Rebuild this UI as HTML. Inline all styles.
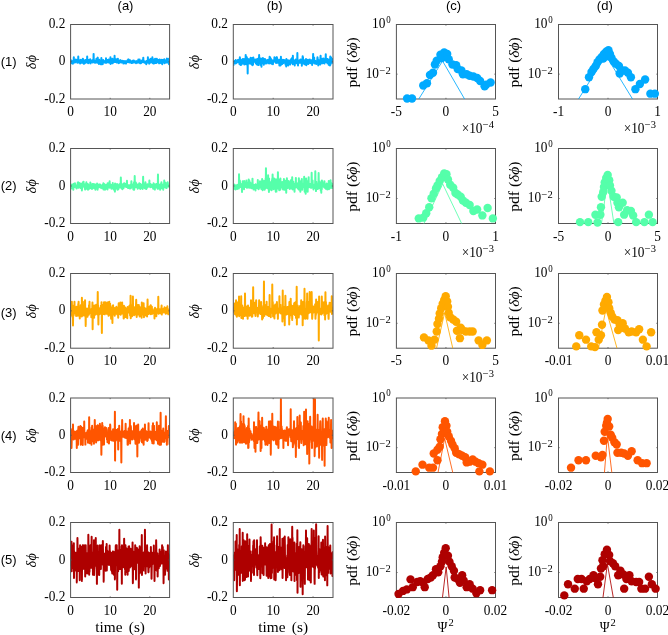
<!DOCTYPE html>
<html><head><meta charset="utf-8"><style>
html,body{margin:0;padding:0;background:#fff;}
svg{display:block;will-change:transform;}
</style></head><body>
<svg width="668" height="635" viewBox="0 0 668 635">
<rect width="668" height="635" fill="#fff"/>
<clipPath id="cp00"><rect x="70.6" y="24.5" width="99.0" height="74.5"/></clipPath>
<polyline clip-path="url(#cp00)" points="70.68,61.33 70.85,63.28 71.01,61.91 71.18,62.64 71.34,63.20 71.51,60.44 71.67,61.18 71.84,61.47 72.00,61.87 72.17,61.31 72.33,61.82 72.50,61.95 72.66,62.56 72.83,63.69 72.99,61.07 73.16,62.35 73.32,61.22 73.49,61.23 73.65,62.82 73.82,57.19 73.98,61.89 74.15,60.83 74.31,61.08 74.48,61.31 74.64,62.48 74.81,61.20 74.97,62.56 75.14,61.46 75.30,61.13 75.47,61.32 75.63,61.64 75.80,59.54 75.96,61.40 76.13,59.65 76.29,60.31 76.46,61.30 76.62,61.80 76.79,60.94 76.95,60.07 77.12,61.53 77.28,62.66 77.45,60.18 77.61,61.97 77.78,61.26 77.94,62.07 78.11,61.68 78.27,56.44 78.44,62.39 78.60,59.73 78.77,61.87 78.93,60.71 79.10,61.77 79.26,60.88 79.43,60.25 79.59,62.49 79.76,61.91 79.92,62.25 80.09,63.43 80.25,60.95 80.42,62.14 80.58,62.36 80.75,62.61 80.91,59.79 81.08,62.73 81.24,62.46 81.41,61.07 81.57,61.55 81.74,62.05 81.90,60.76 82.07,60.93 82.23,62.69 82.40,62.25 82.56,62.05 82.73,61.37 82.89,58.63 83.06,61.36 83.22,60.75 83.39,61.22 83.55,62.34 83.72,63.73 83.88,62.13 84.05,60.63 84.21,62.87 84.38,63.63 84.54,61.90 84.71,61.04 84.87,60.36 85.04,61.64 85.20,60.79 85.37,60.09 85.53,61.90 85.70,62.66 85.86,61.25 86.03,61.69 86.19,61.03 86.36,61.90 86.52,61.88 86.69,61.10 86.85,59.53 87.02,62.14 87.18,56.44 87.35,61.23 87.51,62.58 87.68,61.53 87.84,62.06 88.01,61.25 88.17,63.28 88.34,62.14 88.50,62.21 88.67,59.90 88.83,61.38 89.00,60.98 89.16,62.00 89.33,62.59 89.49,62.08 89.66,61.76 89.82,62.08 89.99,62.03 90.15,59.32 90.32,62.15 90.48,63.37 90.65,60.69 90.81,60.75 90.98,61.08 91.14,61.70 91.31,61.83 91.47,61.19 91.64,61.20 91.80,61.40 91.97,61.95 92.13,60.32 92.30,62.45 92.46,62.33 92.63,61.77 92.79,60.94 92.96,61.39 93.12,61.79 93.29,61.79 93.45,60.82 93.62,53.89 93.78,62.35 93.95,60.12 94.11,62.30 94.28,61.07 94.44,61.76 94.61,62.03 94.77,61.77 94.94,61.66 95.10,62.82 95.27,62.62 95.43,61.86 95.60,60.46 95.76,62.48 95.93,62.37 96.09,60.53 96.26,62.44 96.42,58.63 96.59,62.51 96.75,62.12 96.92,62.59 97.08,59.45 97.25,61.01 97.41,61.42 97.58,58.63 97.74,57.63 97.91,62.37 98.07,62.88 98.24,62.40 98.40,60.14 98.57,60.19 98.73,61.76 98.90,63.93 99.06,61.59 99.23,59.86 99.39,60.88 99.56,62.46 99.72,62.12 99.89,60.56 100.05,61.71 100.22,62.47 100.38,62.17 100.55,61.67 100.71,64.15 100.88,60.80 101.04,61.76 101.21,62.25 101.37,57.93 101.54,64.15 101.70,61.18 101.87,63.89 102.03,61.31 102.20,64.15 102.36,62.65 102.53,60.64 102.69,64.05 102.86,62.35 103.02,62.99 103.19,59.99 103.35,61.74 103.52,62.49 103.68,62.45 103.85,61.86 104.01,62.44 104.18,61.45 104.34,61.43 104.51,61.51 104.67,62.28 104.84,61.70 105.00,62.38 105.17,60.80 105.33,62.67 105.50,61.20 105.66,61.50 105.83,61.54 105.99,58.23 106.16,60.49 106.32,61.80 106.49,62.84 106.65,60.76 106.82,62.55 106.98,61.37 107.15,60.75 107.31,61.70 107.48,61.80 107.64,60.00 107.81,60.90 107.97,61.94 108.14,61.03 108.30,62.18 108.47,61.05 108.63,62.47 108.80,59.39 108.96,61.22 109.13,61.10 109.29,62.02 109.46,61.89 109.62,62.58 109.79,62.41 109.95,63.02 110.12,61.34 110.28,62.77 110.45,57.19 110.61,63.89 110.78,61.78 110.94,63.51 111.11,61.29 111.27,60.05 111.44,61.23 111.60,61.81 111.77,60.40 111.93,62.09 112.10,62.91 112.26,60.89 112.43,58.63 112.59,61.93 112.76,63.28 112.92,61.07 113.09,62.49 113.25,61.76 113.42,60.06 113.58,61.83 113.75,61.54 113.91,61.65 114.08,60.30 114.24,60.33 114.41,61.25 114.57,55.69 114.74,60.99 114.90,62.11 115.07,60.97 115.23,61.91 115.40,59.99 115.56,61.36 115.73,61.13 115.89,61.28 116.06,59.34 116.22,62.09 116.39,60.04 116.55,61.52 116.72,61.30 116.88,62.52 117.05,61.33 117.21,62.25 117.38,62.35 117.54,58.95 117.71,62.30 117.87,58.68 118.04,61.47 118.20,61.36 118.37,62.33 118.53,62.69 118.70,63.10 118.86,62.16 119.03,61.20 119.19,61.80 119.36,62.84 119.52,61.59 119.69,60.74 119.85,61.81 120.02,60.15 120.18,61.41 120.35,61.06 120.51,60.35 120.68,61.00 120.84,61.78 121.01,61.37 121.17,62.42 121.34,60.97 121.50,62.50 121.67,61.91 121.83,61.97 122.00,61.44 122.16,60.78 122.33,61.10 122.49,61.45 122.66,61.95 122.82,62.32 122.99,61.57 123.15,61.93 123.32,63.51 123.48,62.42 123.65,62.99 123.81,60.90 123.98,62.48 124.14,61.42 124.31,61.67 124.47,61.24 124.64,62.83 124.80,61.67 124.97,63.29 125.13,62.81 125.30,61.17 125.46,61.63 125.63,61.82 125.79,61.36 125.96,62.38 126.12,63.51 126.29,62.07 126.45,61.69 126.62,61.32 126.78,61.93 126.95,61.05 127.11,61.99 127.28,60.61 127.44,62.05 127.61,61.34 127.77,62.09 127.94,61.74 128.10,59.46 128.27,61.94 128.43,61.10 128.60,59.53 128.76,62.15 128.93,60.75 129.09,61.18 129.26,61.63 129.42,60.24 129.59,62.39 129.75,62.45 129.92,61.72 130.08,60.29 130.25,61.90 130.41,62.22 130.58,62.24 130.74,62.08 130.91,61.66 131.07,62.17 131.24,62.83 131.40,62.99 131.57,62.69 131.73,61.26 131.90,62.16 132.06,62.08 132.23,62.62 132.39,62.82 132.56,60.79 132.72,62.28 132.89,62.06 133.05,61.67 133.22,60.69 133.38,61.80 133.55,61.20 133.71,60.53 133.88,62.41 134.04,60.90 134.21,62.56 134.37,62.59 134.54,62.32 134.70,62.25 134.87,61.72 135.03,61.55 135.20,61.78 135.36,61.60 135.53,61.81 135.69,61.43 135.86,61.48 136.02,63.24 136.19,61.60 136.35,61.26 136.52,62.34 136.68,61.57 136.85,61.10 137.01,61.58 137.18,61.43 137.34,62.48 137.51,62.68 137.67,60.99 137.84,62.42 138.00,60.96 138.17,61.79 138.33,59.46 138.50,62.46 138.66,61.89 138.83,61.82 138.99,62.06 139.16,61.85 139.32,61.67 139.49,61.59 139.65,59.46 139.82,63.03 139.98,61.50 140.15,62.03 140.31,63.33 140.48,61.13 140.64,61.46 140.81,63.23 140.97,61.35 141.14,61.14 141.30,61.83 141.47,61.50 141.63,62.70 141.80,60.75 141.96,61.25 142.13,62.20 142.29,61.02 142.46,59.95 142.62,61.17 142.79,61.40 142.95,61.38 143.12,60.45 143.28,57.63 143.45,61.14 143.61,62.22 143.78,61.54 143.94,61.59 144.11,62.11 144.27,61.27 144.44,61.56 144.60,62.68 144.77,62.53 144.93,61.48 145.10,61.44 145.26,61.62 145.43,62.43 145.59,61.79 145.76,62.11 145.92,61.72 146.09,62.34 146.25,64.15 146.42,62.42 146.58,61.03 146.75,61.31 146.91,62.03 147.08,62.49 147.24,62.73 147.41,61.61 147.57,61.19 147.74,61.83 147.90,57.19 148.07,62.55 148.23,62.37 148.40,60.96 148.56,61.75 148.73,60.75 148.89,60.11 149.06,62.27 149.22,63.68 149.39,62.55 149.55,59.63 149.72,60.78 149.88,63.03 150.05,61.07 150.21,62.26 150.38,60.70 150.54,61.81 150.71,58.63 150.87,60.83 151.04,60.20 151.20,61.96 151.37,62.17 151.53,61.63 151.70,60.62 151.86,61.57 152.03,61.62 152.19,61.26 152.36,57.19 152.52,62.92 152.69,60.96 152.85,61.25 153.02,61.04 153.18,61.77 153.35,63.51 153.51,61.35 153.68,61.65 153.84,59.58 154.01,63.49 154.17,61.94 154.34,63.14 154.50,61.26 154.67,61.87 154.83,61.67 155.00,62.94 155.16,58.63 155.33,62.98 155.49,60.71 155.66,59.95 155.82,61.79 155.99,62.62 156.15,59.39 156.32,62.99 156.48,60.48 156.65,60.87 156.81,58.68 156.98,61.49 157.14,60.50 157.31,59.82 157.47,61.62 157.64,61.53 157.80,62.26 157.97,62.05 158.13,60.81 158.30,59.90 158.46,61.51 158.63,62.64 158.79,61.28 158.96,60.69 159.12,63.37 159.29,61.07 159.45,62.13 159.62,59.40 159.78,61.82 159.95,61.20 160.11,62.05 160.28,61.43 160.44,62.72 160.61,62.93 160.77,60.47 160.94,62.15 161.10,60.99 161.27,62.24 161.43,62.27 161.60,62.74 161.76,59.75 161.93,61.00 162.09,61.57 162.26,64.15 162.42,60.87 162.59,60.78 162.75,59.92 162.92,61.64 163.08,61.69 163.25,62.07 163.41,61.18 163.58,61.58 163.74,60.95 163.91,62.23 164.07,60.82 164.24,59.24 164.40,62.57 164.57,63.26 164.73,62.36 164.90,61.46 165.06,61.00 165.23,60.57 165.39,60.53 165.56,61.17 165.72,60.68 165.89,62.51 166.05,62.07 166.22,62.33 166.38,62.09 166.55,62.52 166.71,59.43 166.88,58.63 167.04,62.10 167.21,61.52 167.37,61.95 167.54,62.46 167.70,60.24 167.87,59.32 168.03,58.68 168.20,59.76 168.36,62.19 168.53,61.97 168.69,61.80 168.86,62.65 169.02,64.15 169.19,63.01 169.35,60.84 169.52,61.57" fill="none" stroke="#00AAFF" stroke-width="2.0" stroke-linejoin="round"/>
<rect x="70.60" y="24.50" width="99.00" height="74.50" fill="none" stroke="#555" stroke-width="1"/>
<line x1="110.20" y1="99.00" x2="110.20" y2="97.80" stroke="#555" stroke-width="0.8"/>
<line x1="110.20" y1="24.50" x2="110.20" y2="25.70" stroke="#555" stroke-width="0.8"/>
<line x1="149.80" y1="99.00" x2="149.80" y2="97.80" stroke="#555" stroke-width="0.8"/>
<line x1="149.80" y1="24.50" x2="149.80" y2="25.70" stroke="#555" stroke-width="0.8"/>
<line x1="70.60" y1="61.75" x2="71.80" y2="61.75" stroke="#555" stroke-width="0.8"/>
<line x1="169.60" y1="61.75" x2="168.40" y2="61.75" stroke="#555" stroke-width="0.8"/>
<text transform="translate(70.60,116.00) scale(0.86,1)" font-size="15.5" text-anchor="middle" font-family='"Liberation Serif", serif' >0</text>
<text transform="translate(110.20,116.00) scale(0.86,1)" font-size="15.5" text-anchor="middle" font-family='"Liberation Serif", serif' >10</text>
<text transform="translate(149.80,116.00) scale(0.86,1)" font-size="15.5" text-anchor="middle" font-family='"Liberation Serif", serif' >20</text>
<text transform="translate(65.30,28.10) scale(0.86,1)" font-size="15.5" text-anchor="end" font-family='"Liberation Serif", serif' >0.2</text>
<text transform="translate(65.30,65.35) scale(0.86,1)" font-size="15.5" text-anchor="end" font-family='"Liberation Serif", serif' >0</text>
<text transform="translate(65.30,102.60) scale(0.86,1)" font-size="15.5" text-anchor="end" font-family='"Liberation Serif", serif' >-0.2</text>
<g transform="translate(36.10,61.75) rotate(-90)" font-size="14" font-family='"Liberation Serif", serif' font-style="italic"><text x="-7.6" y="0">δ</text><text x="-0.6" y="0">ϕ</text></g>
<clipPath id="cp01"><rect x="233.3" y="24.5" width="99.69999999999999" height="74.5"/></clipPath>
<polyline clip-path="url(#cp01)" points="233.38,62.99 233.55,64.97 233.72,61.90 233.88,62.54 234.05,61.48 234.21,62.58 234.38,63.08 234.55,60.97 234.71,61.46 234.88,61.15 235.04,61.38 235.21,60.81 235.38,60.69 235.54,63.55 235.71,60.10 235.88,62.43 236.04,63.26 236.21,62.54 236.37,62.33 236.54,61.36 236.71,61.55 236.87,61.49 237.04,60.98 237.20,62.37 237.37,61.32 237.54,61.55 237.70,62.03 237.87,59.94 238.04,62.20 238.20,61.75 238.37,61.24 238.53,61.08 238.70,60.73 238.87,59.74 239.03,62.10 239.20,62.49 239.37,62.09 239.53,64.14 239.70,60.81 239.86,57.33 240.03,59.46 240.20,60.50 240.36,62.81 240.53,63.02 240.69,65.02 240.86,59.52 241.03,62.56 241.19,64.32 241.36,64.71 241.53,61.71 241.69,61.13 241.86,62.26 242.02,63.52 242.19,61.81 242.36,61.48 242.52,63.46 242.69,62.85 242.85,58.93 243.02,63.47 243.19,61.63 243.35,62.25 243.52,60.23 243.69,62.82 243.85,59.34 244.02,60.60 244.18,59.33 244.35,64.52 244.52,62.46 244.68,60.94 244.85,62.45 245.01,60.38 245.18,62.57 245.35,61.05 245.51,62.60 245.68,54.94 245.85,57.33 246.01,64.26 246.18,61.85 246.34,62.88 246.51,59.71 246.68,61.52 246.84,57.33 247.01,62.52 247.17,63.96 247.34,60.59 247.51,60.01 247.67,73.60 247.84,58.74 248.01,59.77 248.17,63.51 248.34,62.06 248.50,62.24 248.67,62.00 248.84,59.86 249.00,60.53 249.17,61.88 249.34,63.16 249.50,61.58 249.67,59.53 249.83,62.54 250.00,63.58 250.17,59.29 250.33,58.54 250.50,62.84 250.66,57.74 250.83,61.91 251.00,63.19 251.16,60.83 251.33,59.52 251.50,64.09 251.66,63.06 251.83,60.91 251.99,62.56 252.16,58.09 252.33,65.21 252.49,61.91 252.66,62.68 252.82,61.97 252.99,64.77 253.16,62.38 253.32,57.48 253.49,61.25 253.66,60.71 253.82,60.65 253.99,59.17 254.15,59.87 254.32,59.99 254.49,61.38 254.65,60.84 254.82,61.84 254.98,60.18 255.15,60.95 255.32,61.58 255.48,59.38 255.65,60.13 255.82,63.23 255.98,62.45 256.15,63.05 256.31,61.63 256.48,62.94 256.65,64.27 256.81,62.00 256.98,61.76 257.14,59.03 257.31,62.04 257.48,64.81 257.64,63.18 257.81,62.73 257.98,58.65 258.14,61.96 258.31,60.25 258.47,61.88 258.64,65.10 258.81,62.03 258.97,60.80 259.14,54.94 259.31,62.00 259.47,62.52 259.64,61.90 259.80,62.05 259.97,63.45 260.14,61.14 260.30,62.71 260.47,61.38 260.63,58.61 260.80,62.30 260.97,65.26 261.13,59.18 261.30,62.82 261.47,66.71 261.63,60.49 261.80,58.64 261.96,63.48 262.13,62.63 262.30,61.20 262.46,62.03 262.63,61.76 262.79,58.41 262.96,58.07 263.13,58.67 263.29,60.80 263.46,58.77 263.63,59.66 263.79,64.80 263.96,61.61 264.12,60.50 264.29,61.45 264.46,61.31 264.62,63.13 264.79,59.55 264.95,59.06 265.12,60.13 265.29,61.95 265.45,61.74 265.62,61.83 265.79,62.35 265.95,63.53 266.12,63.09 266.28,62.70 266.45,62.27 266.62,60.32 266.78,60.98 266.95,61.21 267.11,62.46 267.28,60.61 267.45,61.58 267.61,60.90 267.78,60.01 267.95,59.87 268.11,59.76 268.28,63.37 268.44,61.25 268.61,62.17 268.78,61.50 268.94,60.30 269.11,62.52 269.28,63.43 269.44,61.78 269.61,56.74 269.77,57.52 269.94,57.33 270.11,62.95 270.27,57.67 270.44,61.37 270.60,61.11 270.77,60.97 270.94,61.43 271.10,58.94 271.27,61.00 271.44,63.74 271.60,60.98 271.77,59.97 271.93,60.30 272.10,61.53 272.27,60.50 272.43,60.98 272.60,61.98 272.76,61.16 272.93,64.20 273.10,61.50 273.26,61.43 273.43,62.06 273.60,61.09 273.76,60.28 273.93,61.55 274.09,60.35 274.26,61.58 274.43,57.37 274.59,60.53 274.76,60.19 274.92,60.35 275.09,60.85 275.26,61.06 275.42,61.48 275.59,58.53 275.76,62.80 275.92,62.50 276.09,62.89 276.25,62.90 276.42,62.33 276.59,57.33 276.75,62.20 276.92,57.33 277.08,59.92 277.25,59.67 277.42,59.91 277.58,59.28 277.75,62.86 277.92,61.77 278.08,62.45 278.25,62.69 278.41,60.03 278.58,61.87 278.75,60.54 278.91,61.57 279.08,62.59 279.25,63.13 279.41,65.43 279.58,59.82 279.74,61.58 279.91,63.77 280.08,61.82 280.24,60.61 280.41,65.43 280.57,63.42 280.74,65.21 280.91,56.74 281.07,64.39 281.24,60.10 281.41,61.85 281.57,60.64 281.74,61.95 281.90,63.22 282.07,63.52 282.24,63.95 282.40,61.94 282.57,61.40 282.73,61.81 282.90,59.83 283.07,61.87 283.23,62.41 283.40,63.15 283.57,60.83 283.73,60.01 283.90,61.71 284.06,60.83 284.23,60.57 284.40,62.30 284.56,61.56 284.73,60.16 284.89,62.14 285.06,62.94 285.23,61.69 285.39,62.41 285.56,64.67 285.73,62.28 285.89,61.09 286.06,60.62 286.22,66.41 286.39,59.05 286.56,61.49 286.72,59.91 286.89,60.60 287.05,62.24 287.22,60.52 287.39,61.78 287.55,62.97 287.72,61.11 287.89,60.15 288.05,61.68 288.22,65.43 288.38,64.04 288.55,62.28 288.72,62.26 288.88,61.64 289.05,60.79 289.22,61.46 289.38,61.76 289.55,60.98 289.71,62.79 289.88,60.49 290.05,64.53 290.21,62.91 290.38,60.93 290.54,61.79 290.71,61.81 290.88,60.79 291.04,60.84 291.21,59.10 291.38,62.69 291.54,62.31 291.71,62.51 291.87,61.17 292.04,57.98 292.21,62.01 292.37,60.34 292.54,63.08 292.70,64.19 292.87,55.69 293.04,61.72 293.20,62.27 293.37,62.57 293.54,62.50 293.70,62.24 293.87,61.72 294.03,61.79 294.20,60.51 294.37,61.17 294.53,62.83 294.70,65.43 294.86,60.72 295.03,61.52 295.20,62.00 295.36,63.38 295.53,62.73 295.70,59.39 295.86,61.16 296.03,60.96 296.19,61.40 296.36,60.85 296.53,63.11 296.69,62.58 296.86,61.29 297.02,61.06 297.19,63.41 297.36,52.99 297.52,61.76 297.69,59.70 297.86,63.96 298.02,65.43 298.19,60.53 298.35,61.26 298.52,62.55 298.69,63.03 298.85,61.13 299.02,62.10 299.19,60.69 299.35,61.63 299.52,62.17 299.68,61.82 299.85,61.81 300.02,62.73 300.18,59.67 300.35,61.91 300.51,59.50 300.68,62.18 300.85,60.64 301.01,61.69 301.18,60.62 301.35,61.02 301.51,61.27 301.68,59.44 301.84,65.66 302.01,60.78 302.18,63.14 302.34,59.16 302.51,59.03 302.67,56.14 302.84,61.94 303.01,57.33 303.17,61.95 303.34,61.33 303.51,62.83 303.67,63.48 303.84,60.43 304.00,61.35 304.17,61.66 304.34,60.14 304.50,64.19 304.67,63.48 304.83,60.91 305.00,61.49 305.17,61.08 305.33,64.42 305.50,62.60 305.67,63.13 305.83,62.90 306.00,59.07 306.16,62.89 306.33,65.15 306.50,60.08 306.66,60.80 306.83,61.34 306.99,60.58 307.16,62.58 307.33,60.78 307.49,61.75 307.66,61.85 307.83,61.98 307.99,59.78 308.16,63.00 308.32,64.05 308.49,62.21 308.66,63.39 308.82,61.93 308.99,60.28 309.16,62.04 309.32,61.65 309.49,61.60 309.65,62.53 309.82,59.48 309.99,61.36 310.15,61.03 310.32,61.84 310.48,63.08 310.65,62.50 310.82,63.21 310.98,60.62 311.15,62.95 311.32,60.84 311.48,60.28 311.65,63.51 311.81,60.56 311.98,61.13 312.15,65.04 312.31,63.04 312.48,61.61 312.64,61.01 312.81,61.08 312.98,60.28 313.14,53.89 313.31,62.87 313.48,62.26 313.64,62.30 313.81,60.97 313.97,62.00 314.14,57.56 314.31,61.26 314.47,61.66 314.64,62.69 314.80,63.56 314.97,61.81 315.14,61.96 315.30,61.95 315.47,61.05 315.64,61.98 315.80,61.57 315.97,62.29 316.13,62.19 316.30,63.98 316.47,61.99 316.63,61.38 316.80,61.69 316.96,62.81 317.13,63.38 317.30,59.33 317.46,57.33 317.63,57.98 317.80,61.21 317.96,61.07 318.13,61.09 318.29,65.43 318.46,64.45 318.63,60.19 318.79,62.29 318.96,60.23 319.13,61.24 319.29,61.09 319.46,61.80 319.62,63.58 319.79,61.85 319.96,63.81 320.12,64.19 320.29,64.56 320.45,57.33 320.62,55.69 320.79,63.56 320.95,62.77 321.12,61.11 321.29,61.66 321.45,61.36 321.62,61.37 321.78,63.34 321.95,61.27 322.12,61.19 322.28,62.02 322.45,58.63 322.61,63.31 322.78,63.16 322.95,60.88 323.11,61.48 323.28,59.48 323.45,60.19 323.61,58.49 323.78,61.40 323.94,61.95 324.11,60.01 324.28,61.24 324.44,63.54 324.61,62.05 324.77,61.91 324.94,61.37 325.11,62.36 325.27,62.26 325.44,61.24 325.61,59.83 325.77,54.19 325.94,61.23 326.10,62.01 326.27,62.08 326.44,59.91 326.60,59.53 326.77,62.21 326.93,61.10 327.10,59.97 327.27,58.99 327.43,63.34 327.60,61.85 327.77,62.02 327.93,62.38 328.10,61.11 328.26,59.41 328.43,62.98 328.60,61.51 328.76,64.86 328.93,59.86 329.10,61.67 329.26,61.55 329.43,59.88 329.59,62.30 329.76,62.65 329.93,65.43 330.09,60.06 330.26,56.44 330.42,64.52 330.59,63.03 330.76,61.08 330.92,57.33 331.09,59.68 331.26,62.04 331.42,60.63 331.59,62.38 331.75,60.36 331.92,61.81 332.09,58.86 332.25,62.78 332.42,60.27 332.58,59.41 332.75,59.66 332.92,63.03" fill="none" stroke="#00AAFF" stroke-width="2.0" stroke-linejoin="round"/>
<rect x="233.30" y="24.50" width="99.70" height="74.50" fill="none" stroke="#555" stroke-width="1"/>
<line x1="273.18" y1="99.00" x2="273.18" y2="97.80" stroke="#555" stroke-width="0.8"/>
<line x1="273.18" y1="24.50" x2="273.18" y2="25.70" stroke="#555" stroke-width="0.8"/>
<line x1="313.06" y1="99.00" x2="313.06" y2="97.80" stroke="#555" stroke-width="0.8"/>
<line x1="313.06" y1="24.50" x2="313.06" y2="25.70" stroke="#555" stroke-width="0.8"/>
<line x1="233.30" y1="61.75" x2="234.50" y2="61.75" stroke="#555" stroke-width="0.8"/>
<line x1="333.00" y1="61.75" x2="331.80" y2="61.75" stroke="#555" stroke-width="0.8"/>
<text transform="translate(233.30,116.00) scale(0.86,1)" font-size="15.5" text-anchor="middle" font-family='"Liberation Serif", serif' >0</text>
<text transform="translate(273.18,116.00) scale(0.86,1)" font-size="15.5" text-anchor="middle" font-family='"Liberation Serif", serif' >10</text>
<text transform="translate(313.06,116.00) scale(0.86,1)" font-size="15.5" text-anchor="middle" font-family='"Liberation Serif", serif' >20</text>
<text transform="translate(228.00,28.10) scale(0.86,1)" font-size="15.5" text-anchor="end" font-family='"Liberation Serif", serif' >0.2</text>
<text transform="translate(228.00,65.35) scale(0.86,1)" font-size="15.5" text-anchor="end" font-family='"Liberation Serif", serif' >0</text>
<text transform="translate(228.00,102.60) scale(0.86,1)" font-size="15.5" text-anchor="end" font-family='"Liberation Serif", serif' >-0.2</text>
<g transform="translate(198.80,61.75) rotate(-90)" font-size="14" font-family='"Liberation Serif", serif' font-style="italic"><text x="-7.6" y="0">δ</text><text x="-0.6" y="0">ϕ</text></g>
<clipPath id="cp10"><rect x="70.6" y="148.5" width="99.0" height="75.0"/></clipPath>
<polyline clip-path="url(#cp10)" points="70.68,184.24 70.85,184.88 71.01,186.36 71.18,186.30 71.34,186.56 71.51,187.60 71.67,188.48 71.84,188.39 72.00,184.40 72.17,184.66 72.33,187.69 72.50,187.59 72.66,188.16 72.83,184.93 72.99,184.63 73.16,187.84 73.32,189.68 73.49,185.64 73.65,184.65 73.82,183.89 73.98,185.42 74.15,185.95 74.31,186.27 74.48,186.73 74.64,186.85 74.81,186.48 74.97,183.34 75.14,186.49 75.30,185.33 75.47,185.63 75.63,185.43 75.80,185.77 75.96,185.45 76.13,186.73 76.29,187.94 76.46,186.90 76.62,188.50 76.79,186.45 76.95,185.89 77.12,185.89 77.28,185.50 77.45,186.81 77.61,183.63 77.78,182.53 77.94,185.20 78.11,182.32 78.27,185.48 78.44,186.31 78.60,187.82 78.77,186.86 78.93,186.72 79.10,186.98 79.26,183.02 79.43,184.01 79.59,186.35 79.76,185.86 79.92,185.30 80.09,187.21 80.25,186.15 80.42,187.72 80.58,187.96 80.75,185.98 80.91,183.60 81.08,186.50 81.24,186.59 81.41,185.37 81.57,187.30 81.74,186.03 81.90,190.41 82.07,186.49 82.23,185.27 82.40,186.36 82.56,186.23 82.73,185.87 82.89,182.32 83.06,184.34 83.22,185.21 83.39,186.59 83.55,181.63 83.72,184.80 83.88,185.55 84.05,185.78 84.21,186.85 84.38,185.20 84.54,186.32 84.71,187.86 84.87,184.61 85.04,189.58 85.20,187.12 85.37,185.86 85.53,185.28 85.70,186.91 85.86,187.64 86.03,185.91 86.19,183.33 86.36,182.32 86.52,187.51 86.69,188.85 86.85,186.08 87.02,186.05 87.18,187.18 87.35,186.65 87.51,188.36 87.68,185.83 87.84,183.93 88.01,189.66 88.17,186.41 88.34,187.83 88.50,187.10 88.67,189.12 88.83,185.44 89.00,185.26 89.16,186.09 89.33,187.89 89.49,187.93 89.66,185.68 89.82,186.43 89.99,185.81 90.15,188.25 90.32,182.41 90.48,184.93 90.65,185.68 90.81,183.90 90.98,185.02 91.14,185.99 91.31,185.90 91.47,185.95 91.64,187.91 91.80,187.44 91.97,189.00 92.13,184.50 92.30,186.35 92.46,184.67 92.63,184.05 92.79,184.30 92.96,186.21 93.12,186.29 93.29,185.76 93.45,186.80 93.62,184.42 93.78,184.03 93.95,188.13 94.11,185.23 94.28,185.87 94.44,187.70 94.61,186.44 94.77,185.43 94.94,186.38 95.10,187.04 95.27,184.46 95.43,189.68 95.60,186.91 95.76,187.09 95.93,185.31 96.09,185.98 96.26,185.66 96.42,184.46 96.59,185.07 96.75,186.39 96.92,184.98 97.08,183.54 97.25,184.13 97.41,184.08 97.58,189.68 97.74,186.27 97.91,184.86 98.07,185.65 98.24,186.14 98.40,186.43 98.57,187.55 98.73,184.76 98.90,186.32 99.06,186.24 99.23,187.03 99.39,186.73 99.56,185.84 99.72,184.44 99.89,186.22 100.05,184.49 100.22,185.03 100.38,184.91 100.55,185.70 100.71,187.78 100.88,185.57 101.04,185.30 101.21,186.46 101.37,186.30 101.54,185.83 101.70,186.29 101.87,186.17 102.03,188.17 102.20,185.21 102.36,186.26 102.53,186.18 102.69,186.82 102.86,186.96 103.02,186.46 103.19,187.25 103.35,183.22 103.52,189.45 103.68,186.49 103.85,188.11 104.01,186.89 104.18,186.42 104.34,187.14 104.51,184.27 104.67,186.71 104.84,184.78 105.00,189.68 105.17,184.99 105.33,186.40 105.50,185.55 105.66,189.04 105.83,186.08 105.99,187.01 106.16,185.05 106.32,188.35 106.49,185.54 106.65,186.19 106.82,185.44 106.98,184.59 107.15,187.59 107.31,186.73 107.48,189.54 107.64,183.31 107.81,186.73 107.97,184.15 108.14,186.90 108.30,185.36 108.47,185.53 108.63,186.71 108.80,186.71 108.96,182.98 109.13,187.42 109.29,187.64 109.46,185.62 109.62,181.19 109.79,186.51 109.95,186.45 110.12,185.98 110.28,184.35 110.45,185.92 110.61,185.61 110.78,187.45 110.94,186.47 111.11,185.49 111.27,185.75 111.44,188.74 111.60,185.02 111.77,186.39 111.93,187.27 112.10,186.10 112.26,188.57 112.43,186.98 112.59,186.37 112.76,183.10 112.92,185.60 113.09,186.56 113.25,188.35 113.42,184.93 113.58,187.19 113.75,187.56 113.91,189.55 114.08,185.77 114.24,186.56 114.41,185.06 114.57,186.04 114.74,185.26 114.90,191.61 115.07,183.38 115.23,184.82 115.40,184.40 115.56,185.87 115.73,185.11 115.89,186.47 116.06,188.41 116.22,186.32 116.39,186.14 116.55,185.59 116.72,184.91 116.88,185.87 117.05,184.02 117.21,185.10 117.38,184.78 117.54,189.68 117.71,184.99 117.87,186.31 118.04,186.20 118.20,186.07 118.37,189.14 118.53,186.59 118.70,186.67 118.86,186.04 119.03,186.60 119.19,186.26 119.36,184.34 119.52,186.72 119.69,186.78 119.85,185.67 120.02,187.59 120.18,185.22 120.35,186.32 120.51,185.51 120.68,184.01 120.84,177.44 121.01,184.81 121.17,185.36 121.34,186.44 121.50,185.24 121.67,188.31 121.83,184.44 122.00,187.57 122.16,185.12 122.33,189.22 122.49,187.08 122.66,185.99 122.82,186.20 122.99,185.33 123.15,183.99 123.32,186.37 123.48,188.20 123.65,186.57 123.81,184.84 123.98,185.95 124.14,183.18 124.31,186.50 124.47,184.82 124.64,184.75 124.80,184.58 124.97,186.38 125.13,183.66 125.30,185.51 125.46,186.51 125.63,184.39 125.79,185.85 125.96,186.52 126.12,186.86 126.29,185.38 126.45,184.77 126.62,187.04 126.78,186.50 126.95,180.74 127.11,185.70 127.28,186.80 127.44,187.08 127.61,185.54 127.77,185.11 127.94,185.52 128.10,188.12 128.27,185.14 128.43,185.29 128.60,185.63 128.76,185.93 128.93,188.09 129.09,186.79 129.26,187.02 129.42,187.88 129.59,187.07 129.75,185.91 129.92,186.37 130.08,188.57 130.25,185.06 130.41,184.68 130.58,185.34 130.74,187.58 130.91,188.25 131.07,184.24 131.24,185.35 131.40,181.19 131.57,185.89 131.73,185.73 131.90,184.88 132.06,185.95 132.23,186.69 132.39,186.72 132.56,186.88 132.72,184.66 132.89,184.53 133.05,185.58 133.22,188.88 133.38,189.56 133.55,185.58 133.71,189.68 133.88,189.27 134.04,182.32 134.21,189.68 134.37,186.22 134.54,187.15 134.70,175.95 134.87,185.01 135.03,185.57 135.20,186.86 135.36,182.32 135.53,186.12 135.69,186.93 135.86,182.45 136.02,187.29 136.19,185.79 136.35,185.82 136.52,184.10 136.68,185.66 136.85,186.85 137.01,184.71 137.18,185.18 137.34,187.45 137.51,186.54 137.67,188.68 137.84,185.63 138.00,185.00 138.17,184.53 138.33,184.52 138.50,186.05 138.66,186.11 138.83,187.42 138.99,185.11 139.16,185.08 139.32,183.15 139.49,187.88 139.65,183.74 139.82,184.41 139.98,185.62 140.15,185.31 140.31,189.05 140.48,184.06 140.64,185.53 140.81,185.64 140.97,184.78 141.14,188.14 141.30,187.33 141.47,188.03 141.63,186.34 141.80,186.77 141.96,187.21 142.13,187.71 142.29,184.39 142.46,184.78 142.62,189.04 142.79,186.05 142.95,187.26 143.12,176.69 143.28,186.83 143.45,185.63 143.61,183.90 143.78,186.13 143.94,186.31 144.11,187.44 144.27,187.25 144.44,184.63 144.60,185.69 144.77,188.25 144.93,186.38 145.10,187.23 145.26,186.53 145.43,182.32 145.59,183.30 145.76,184.60 145.92,184.79 146.09,187.07 146.25,189.12 146.42,186.19 146.58,185.84 146.75,186.15 146.91,186.35 147.08,187.77 147.24,184.93 147.41,185.59 147.57,184.33 147.74,186.99 147.90,185.58 148.07,185.42 148.23,184.82 148.40,186.61 148.56,186.28 148.73,185.21 148.89,186.28 149.06,185.81 149.22,185.85 149.39,180.44 149.55,185.55 149.72,185.88 149.88,186.05 150.05,186.01 150.21,187.19 150.38,185.11 150.54,183.97 150.71,186.67 150.87,186.90 151.04,186.01 151.20,185.94 151.37,184.73 151.53,186.84 151.70,184.96 151.86,185.28 152.03,185.45 152.19,184.90 152.36,187.16 152.52,186.57 152.69,187.45 152.85,187.74 153.02,187.12 153.18,188.72 153.35,187.83 153.51,183.34 153.68,185.97 153.84,185.76 154.01,185.10 154.17,183.94 154.34,184.19 154.50,184.84 154.67,187.25 154.83,189.59 155.00,186.13 155.16,185.70 155.33,185.38 155.49,186.78 155.66,187.32 155.82,185.59 155.99,184.25 156.15,183.98 156.32,187.31 156.48,185.78 156.65,186.72 156.81,187.23 156.98,186.15 157.14,187.98 157.31,186.31 157.47,186.32 157.64,186.24 157.80,188.87 157.97,174.45 158.13,186.05 158.30,186.75 158.46,185.73 158.63,185.78 158.79,184.49 158.96,186.60 159.12,186.95 159.29,185.56 159.45,188.11 159.62,185.56 159.78,188.89 159.95,185.76 160.11,189.68 160.28,185.48 160.44,184.27 160.61,185.14 160.77,184.97 160.94,186.65 161.10,185.49 161.27,186.15 161.43,182.32 161.60,184.97 161.76,185.90 161.93,188.35 162.09,186.03 162.26,186.65 162.42,186.70 162.59,186.04 162.75,186.70 162.92,185.21 163.08,187.08 163.25,189.68 163.41,185.56 163.58,184.27 163.74,184.12 163.91,184.60 164.07,186.38 164.24,180.44 164.40,186.57 164.57,187.04 164.73,187.10 164.90,185.99 165.06,185.70 165.23,187.49 165.39,183.33 165.56,182.69 165.72,185.31 165.89,186.47 166.05,186.13 166.22,185.78 166.38,184.60 166.55,188.09 166.71,185.88 166.88,187.48 167.04,186.09 167.21,185.16 167.37,185.22 167.54,185.39 167.70,182.32 167.87,185.36 168.03,185.18 168.20,184.25 168.36,185.49 168.53,185.79 168.69,184.73 168.86,186.16 169.02,185.09 169.19,187.17 169.35,185.00 169.52,184.95" fill="none" stroke="#55FFAA" stroke-width="2.0" stroke-linejoin="round"/>
<rect x="70.60" y="148.50" width="99.00" height="75.00" fill="none" stroke="#555" stroke-width="1"/>
<line x1="110.20" y1="223.50" x2="110.20" y2="222.30" stroke="#555" stroke-width="0.8"/>
<line x1="110.20" y1="148.50" x2="110.20" y2="149.70" stroke="#555" stroke-width="0.8"/>
<line x1="149.80" y1="223.50" x2="149.80" y2="222.30" stroke="#555" stroke-width="0.8"/>
<line x1="149.80" y1="148.50" x2="149.80" y2="149.70" stroke="#555" stroke-width="0.8"/>
<line x1="70.60" y1="186.00" x2="71.80" y2="186.00" stroke="#555" stroke-width="0.8"/>
<line x1="169.60" y1="186.00" x2="168.40" y2="186.00" stroke="#555" stroke-width="0.8"/>
<text transform="translate(70.60,240.50) scale(0.86,1)" font-size="15.5" text-anchor="middle" font-family='"Liberation Serif", serif' >0</text>
<text transform="translate(110.20,240.50) scale(0.86,1)" font-size="15.5" text-anchor="middle" font-family='"Liberation Serif", serif' >10</text>
<text transform="translate(149.80,240.50) scale(0.86,1)" font-size="15.5" text-anchor="middle" font-family='"Liberation Serif", serif' >20</text>
<text transform="translate(65.30,152.10) scale(0.86,1)" font-size="15.5" text-anchor="end" font-family='"Liberation Serif", serif' >0.2</text>
<text transform="translate(65.30,189.60) scale(0.86,1)" font-size="15.5" text-anchor="end" font-family='"Liberation Serif", serif' >0</text>
<text transform="translate(65.30,227.10) scale(0.86,1)" font-size="15.5" text-anchor="end" font-family='"Liberation Serif", serif' >-0.2</text>
<g transform="translate(36.10,186.00) rotate(-90)" font-size="14" font-family='"Liberation Serif", serif' font-style="italic"><text x="-7.6" y="0">δ</text><text x="-0.6" y="0">ϕ</text></g>
<clipPath id="cp11"><rect x="233.3" y="148.5" width="99.69999999999999" height="75.0"/></clipPath>
<polyline clip-path="url(#cp11)" points="233.38,184.95 233.55,186.26 233.72,185.23 233.88,188.88 234.05,184.61 234.21,188.26 234.38,185.69 234.55,185.34 234.71,186.84 234.88,185.89 235.04,185.16 235.21,187.96 235.38,186.26 235.54,189.54 235.71,185.46 235.88,186.60 236.04,187.25 236.21,186.02 236.37,186.57 236.54,185.16 236.71,187.42 236.87,188.34 237.04,186.51 237.20,188.99 237.37,187.84 237.54,187.31 237.70,186.21 237.87,184.79 238.04,187.92 238.20,184.77 238.37,186.60 238.53,185.87 238.70,184.91 238.87,188.59 239.03,174.15 239.20,186.11 239.37,185.63 239.53,182.18 239.70,186.12 239.86,180.59 240.03,182.54 240.20,184.79 240.36,186.47 240.53,186.94 240.69,185.71 240.86,186.28 241.03,184.60 241.19,186.15 241.36,187.08 241.53,186.68 241.69,186.18 241.86,188.20 242.02,191.91 242.19,183.70 242.36,186.14 242.52,185.21 242.69,181.19 242.85,184.26 243.02,182.08 243.19,185.62 243.35,185.40 243.52,187.91 243.69,184.21 243.85,183.84 244.02,189.24 244.18,181.08 244.35,182.82 244.52,183.46 244.68,186.00 244.85,183.19 245.01,184.93 245.18,184.95 245.35,184.13 245.51,186.89 245.68,186.03 245.85,186.45 246.01,184.06 246.18,186.13 246.34,180.59 246.51,185.54 246.68,184.36 246.84,185.04 247.01,187.82 247.17,184.61 247.34,187.28 247.51,183.19 247.67,182.67 247.84,187.06 248.01,186.76 248.17,187.37 248.34,186.48 248.50,182.84 248.67,179.39 248.84,186.58 249.00,187.56 249.17,180.59 249.34,185.99 249.50,180.92 249.67,187.82 249.83,184.93 250.00,182.51 250.17,187.45 250.33,182.78 250.50,183.30 250.66,184.64 250.83,186.69 251.00,185.14 251.16,187.64 251.33,185.26 251.50,186.43 251.66,188.19 251.83,186.11 251.99,187.09 252.16,186.80 252.33,184.87 252.49,178.64 252.66,184.04 252.82,185.99 252.99,184.56 253.16,186.77 253.32,186.95 253.49,189.39 253.66,186.17 253.82,186.44 253.99,185.05 254.15,185.14 254.32,186.49 254.49,186.89 254.65,186.76 254.82,188.13 254.98,186.20 255.15,184.68 255.32,186.03 255.48,190.51 255.65,184.29 255.82,184.65 255.98,185.24 256.15,186.54 256.31,186.10 256.48,185.82 256.65,186.07 256.81,185.69 256.98,187.07 257.14,187.36 257.31,188.27 257.48,186.46 257.64,186.79 257.81,180.00 257.98,185.31 258.14,184.54 258.31,185.52 258.47,185.03 258.64,189.30 258.81,184.07 258.97,187.12 259.14,186.32 259.31,185.33 259.47,187.44 259.64,187.58 259.80,185.52 259.97,181.19 260.14,186.67 260.30,181.94 260.47,185.90 260.63,186.00 260.80,187.60 260.97,183.30 261.13,185.44 261.30,187.79 261.47,189.01 261.63,183.25 261.80,188.29 261.96,187.55 262.13,179.06 262.30,185.92 262.46,186.13 262.63,190.29 262.79,184.34 262.96,180.44 263.13,187.44 263.29,186.58 263.46,186.86 263.63,186.36 263.79,185.54 263.96,185.08 264.12,187.93 264.29,184.40 264.46,187.05 264.62,189.81 264.79,180.81 264.95,185.84 265.12,180.74 265.29,188.38 265.45,183.89 265.62,178.51 265.79,183.91 265.95,168.16 266.12,183.99 266.28,187.59 266.45,187.09 266.62,186.82 266.78,184.73 266.95,181.32 267.11,186.80 267.28,188.03 267.45,185.67 267.61,186.99 267.78,188.25 267.95,187.74 268.11,175.20 268.28,187.02 268.44,186.50 268.61,187.23 268.78,189.17 268.94,191.91 269.11,178.51 269.28,187.22 269.44,189.46 269.61,187.01 269.77,189.74 269.94,186.50 270.11,181.96 270.27,182.79 270.44,187.74 270.60,186.60 270.77,185.44 270.94,184.41 271.10,182.50 271.27,186.53 271.44,186.86 271.60,190.23 271.77,185.03 271.93,180.36 272.10,183.78 272.27,178.51 272.43,185.73 272.60,174.45 272.76,180.86 272.93,184.92 273.10,187.22 273.26,187.39 273.43,185.93 273.60,189.13 273.76,180.48 273.93,182.98 274.09,178.51 274.26,185.91 274.43,185.83 274.59,185.92 274.76,186.23 274.92,188.01 275.09,188.45 275.26,186.15 275.42,180.87 275.59,189.09 275.76,191.76 275.92,179.19 276.09,185.93 276.25,187.59 276.42,191.61 276.59,186.61 276.75,180.88 276.92,187.95 277.08,180.33 277.25,187.85 277.42,186.14 277.58,185.26 277.75,187.22 277.92,172.20 278.08,188.58 278.25,187.87 278.41,180.79 278.58,186.87 278.75,189.04 278.91,185.93 279.08,179.83 279.25,190.14 279.41,187.14 279.58,187.63 279.74,183.25 279.91,186.74 280.08,187.90 280.24,189.80 280.41,178.51 280.57,187.46 280.74,183.42 280.91,187.28 281.07,185.92 281.24,184.94 281.41,186.65 281.57,183.49 281.74,184.21 281.90,185.14 282.07,187.06 282.24,182.10 282.40,187.33 282.57,188.57 282.73,187.18 282.90,185.74 283.07,189.41 283.23,185.90 283.40,186.95 283.57,182.88 283.73,186.00 283.90,178.94 284.06,188.84 284.23,186.64 284.40,182.58 284.56,189.73 284.73,187.45 284.89,185.80 285.06,183.44 285.23,180.68 285.39,188.91 285.56,188.53 285.73,186.70 285.89,186.31 286.06,185.50 286.22,192.66 286.39,184.44 286.56,185.37 286.72,185.84 286.89,178.19 287.05,182.15 287.22,184.82 287.39,185.74 287.55,181.07 287.72,187.12 287.89,187.93 288.05,186.24 288.22,182.99 288.38,185.38 288.55,181.00 288.72,185.33 288.88,185.83 289.05,186.14 289.22,187.09 289.38,186.39 289.55,184.24 289.71,188.90 289.88,181.88 290.05,183.84 290.21,188.28 290.38,184.21 290.54,185.14 290.71,184.32 290.88,180.33 291.04,187.20 291.21,184.26 291.38,188.39 291.54,184.79 291.71,183.62 291.87,181.23 292.04,181.50 292.21,177.14 292.37,189.06 292.54,188.83 292.70,186.90 292.87,189.39 293.04,189.10 293.20,185.83 293.37,181.80 293.54,185.78 293.70,186.99 293.87,188.59 294.03,188.61 294.20,189.09 294.37,183.77 294.53,191.76 294.70,185.03 294.86,185.94 295.03,184.56 295.20,186.54 295.36,186.41 295.53,186.43 295.70,187.19 295.86,177.89 296.03,186.03 296.19,187.38 296.36,184.58 296.53,185.31 296.69,184.78 296.86,184.31 297.02,187.16 297.19,185.36 297.36,185.32 297.52,186.39 297.69,185.20 297.86,188.50 298.02,183.07 298.19,186.08 298.35,185.87 298.52,187.41 298.69,189.41 298.85,178.19 299.02,186.29 299.19,180.93 299.35,186.11 299.52,184.83 299.68,185.21 299.85,185.36 300.02,185.28 300.18,186.78 300.35,191.76 300.51,185.65 300.68,181.22 300.85,186.55 301.01,182.86 301.18,189.56 301.35,185.94 301.51,188.92 301.68,180.07 301.84,178.94 302.01,186.50 302.18,189.69 302.34,187.34 302.51,184.91 302.67,183.77 302.84,185.23 303.01,186.12 303.17,186.00 303.34,185.89 303.51,185.38 303.67,187.11 303.84,186.06 304.00,185.97 304.17,176.69 304.34,186.87 304.50,188.22 304.67,191.76 304.83,184.23 305.00,188.32 305.17,190.23 305.33,191.76 305.50,183.39 305.67,193.71 305.83,183.39 306.00,187.57 306.16,178.51 306.33,185.98 306.50,183.35 306.66,188.15 306.83,187.29 306.99,185.67 307.16,185.27 307.33,186.62 307.49,186.58 307.66,191.76 307.83,181.08 307.99,187.61 308.16,186.26 308.32,183.81 308.49,183.80 308.66,177.14 308.82,186.39 308.99,186.59 309.16,186.18 309.32,187.13 309.49,186.05 309.65,186.52 309.82,186.66 309.99,183.98 310.15,185.99 310.32,186.14 310.48,187.40 310.65,184.82 310.82,186.87 310.98,186.35 311.15,187.86 311.32,184.17 311.48,184.12 311.65,172.65 311.81,181.95 311.98,187.54 312.15,183.17 312.31,183.37 312.48,185.13 312.64,180.48 312.81,185.91 312.98,186.60 313.14,186.64 313.31,186.10 313.48,189.55 313.64,185.56 313.81,187.91 313.97,184.90 314.14,186.10 314.31,185.47 314.47,187.93 314.64,184.55 314.80,187.33 314.97,186.37 315.14,186.36 315.30,171.16 315.47,183.81 315.64,186.55 315.80,184.79 315.97,191.11 316.13,189.02 316.30,181.87 316.47,186.02 316.63,185.57 316.80,188.95 316.96,184.06 317.13,187.16 317.30,185.37 317.46,184.29 317.63,185.04 317.80,188.94 317.96,184.52 318.13,184.27 318.29,187.33 318.46,184.04 318.63,172.95 318.79,182.70 318.96,185.62 319.13,188.27 319.29,187.82 319.46,184.38 319.62,181.27 319.79,185.77 319.96,185.58 320.12,186.74 320.29,184.49 320.45,188.43 320.62,182.83 320.79,190.69 320.95,186.11 321.12,183.98 321.29,192.66 321.45,186.54 321.62,185.22 321.78,189.32 321.95,180.61 322.12,183.76 322.28,186.78 322.45,183.97 322.61,182.94 322.78,184.15 322.95,186.61 323.11,186.60 323.28,185.03 323.45,185.64 323.61,184.70 323.78,185.64 323.94,187.00 324.11,184.49 324.28,181.19 324.44,181.20 324.61,187.63 324.77,186.13 324.94,186.54 325.11,187.76 325.27,187.77 325.44,185.19 325.61,187.81 325.77,187.45 325.94,188.83 326.10,185.77 326.27,187.01 326.44,186.33 326.60,183.44 326.77,186.91 326.93,185.49 327.10,186.63 327.27,189.40 327.43,186.25 327.60,184.29 327.77,185.70 327.93,187.00 328.10,186.08 328.26,186.62 328.43,185.57 328.60,186.58 328.76,180.89 328.93,189.22 329.10,184.31 329.26,187.68 329.43,184.85 329.59,187.09 329.76,187.52 329.93,188.39 330.09,185.26 330.26,184.40 330.42,186.97 330.59,180.18 330.76,187.06 330.92,186.60 331.09,185.37 331.26,186.73 331.42,185.92 331.59,185.40 331.75,183.59 331.92,187.56 332.09,188.07 332.25,184.15 332.42,184.76 332.58,185.35 332.75,185.13 332.92,185.11" fill="none" stroke="#55FFAA" stroke-width="2.0" stroke-linejoin="round"/>
<rect x="233.30" y="148.50" width="99.70" height="75.00" fill="none" stroke="#555" stroke-width="1"/>
<line x1="273.18" y1="223.50" x2="273.18" y2="222.30" stroke="#555" stroke-width="0.8"/>
<line x1="273.18" y1="148.50" x2="273.18" y2="149.70" stroke="#555" stroke-width="0.8"/>
<line x1="313.06" y1="223.50" x2="313.06" y2="222.30" stroke="#555" stroke-width="0.8"/>
<line x1="313.06" y1="148.50" x2="313.06" y2="149.70" stroke="#555" stroke-width="0.8"/>
<line x1="233.30" y1="186.00" x2="234.50" y2="186.00" stroke="#555" stroke-width="0.8"/>
<line x1="333.00" y1="186.00" x2="331.80" y2="186.00" stroke="#555" stroke-width="0.8"/>
<text transform="translate(233.30,240.50) scale(0.86,1)" font-size="15.5" text-anchor="middle" font-family='"Liberation Serif", serif' >0</text>
<text transform="translate(273.18,240.50) scale(0.86,1)" font-size="15.5" text-anchor="middle" font-family='"Liberation Serif", serif' >10</text>
<text transform="translate(313.06,240.50) scale(0.86,1)" font-size="15.5" text-anchor="middle" font-family='"Liberation Serif", serif' >20</text>
<text transform="translate(228.00,152.10) scale(0.86,1)" font-size="15.5" text-anchor="end" font-family='"Liberation Serif", serif' >0.2</text>
<text transform="translate(228.00,189.60) scale(0.86,1)" font-size="15.5" text-anchor="end" font-family='"Liberation Serif", serif' >0</text>
<text transform="translate(228.00,227.10) scale(0.86,1)" font-size="15.5" text-anchor="end" font-family='"Liberation Serif", serif' >-0.2</text>
<g transform="translate(198.80,186.00) rotate(-90)" font-size="14" font-family='"Liberation Serif", serif' font-style="italic"><text x="-7.6" y="0">δ</text><text x="-0.6" y="0">ϕ</text></g>
<clipPath id="cp20"><rect x="70.6" y="273.5" width="99.0" height="74.69999999999999"/></clipPath>
<polyline clip-path="url(#cp20)" points="70.68,315.33 70.85,307.64 71.01,314.85 71.18,312.30 71.34,308.78 71.51,313.43 71.67,307.77 71.84,301.72 72.00,314.02 72.17,307.99 72.33,316.79 72.50,311.46 72.66,305.49 72.83,316.76 72.99,325.59 73.16,310.30 73.32,309.05 73.49,315.74 73.65,314.96 73.82,308.99 73.98,310.47 74.15,313.17 74.31,313.37 74.48,301.69 74.64,312.54 74.81,312.99 74.97,308.92 75.14,310.58 75.30,307.33 75.47,308.55 75.63,311.12 75.80,310.53 75.96,311.14 76.13,315.89 76.29,310.03 76.46,306.80 76.62,312.43 76.79,314.52 76.95,310.04 77.12,313.44 77.28,314.95 77.45,310.58 77.61,311.56 77.78,315.83 77.94,310.80 78.11,311.44 78.27,303.98 78.44,311.07 78.60,301.81 78.77,311.81 78.93,312.76 79.10,315.55 79.26,313.24 79.43,308.21 79.59,310.13 79.76,318.41 79.92,312.77 80.09,311.44 80.25,310.91 80.42,307.47 80.58,315.68 80.75,305.19 80.91,309.41 81.08,308.88 81.24,314.01 81.41,310.17 81.57,311.65 81.74,316.45 81.90,297.65 82.07,309.59 82.23,313.73 82.40,315.80 82.56,311.48 82.73,311.90 82.89,301.87 83.06,312.40 83.22,310.92 83.39,310.46 83.55,306.81 83.72,312.59 83.88,309.23 84.05,315.58 84.21,314.89 84.38,307.83 84.54,313.88 84.71,308.77 84.87,311.06 85.04,300.20 85.20,310.15 85.37,312.06 85.53,315.51 85.70,325.89 85.86,311.39 86.03,308.79 86.19,310.49 86.36,310.31 86.52,314.38 86.69,312.08 86.85,310.62 87.02,308.38 87.18,311.66 87.35,311.95 87.51,316.63 87.68,311.61 87.84,311.40 88.01,312.88 88.17,310.79 88.34,312.21 88.50,310.96 88.67,312.95 88.83,314.72 89.00,305.21 89.16,306.00 89.33,312.45 89.49,301.69 89.66,310.56 89.82,312.28 89.99,310.69 90.15,310.74 90.32,313.16 90.48,309.78 90.65,310.61 90.81,310.12 90.98,313.76 91.14,309.35 91.31,317.35 91.47,309.61 91.64,312.30 91.80,311.39 91.97,312.33 92.13,313.82 92.30,307.55 92.46,302.44 92.63,329.19 92.79,311.17 92.96,311.90 93.12,310.04 93.29,307.64 93.45,312.44 93.62,312.10 93.78,312.93 93.95,310.98 94.11,317.67 94.28,305.59 94.44,314.20 94.61,306.23 94.77,313.01 94.94,314.86 95.10,311.63 95.27,309.61 95.43,310.92 95.60,308.19 95.76,308.91 95.93,309.39 96.09,304.83 96.26,308.01 96.42,306.11 96.59,311.38 96.75,313.89 96.92,308.38 97.08,314.37 97.25,314.43 97.41,311.73 97.58,308.35 97.74,291.96 97.91,308.54 98.07,305.25 98.24,313.83 98.40,324.40 98.57,311.18 98.73,312.24 98.90,311.87 99.06,310.80 99.23,314.08 99.39,314.26 99.56,312.34 99.72,309.01 99.89,311.09 100.05,307.95 100.22,313.52 100.38,310.31 100.55,312.96 100.71,313.09 100.88,305.67 101.04,311.10 101.21,307.89 101.37,314.15 101.54,302.13 101.70,313.78 101.87,333.08 102.03,314.26 102.20,309.47 102.36,309.24 102.53,309.84 102.69,313.28 102.86,304.98 103.02,311.49 103.19,312.06 103.35,308.89 103.52,313.91 103.68,313.43 103.85,310.66 104.01,302.17 104.18,312.39 104.34,311.32 104.51,311.52 104.67,314.35 104.84,309.89 105.00,302.18 105.17,310.29 105.33,310.35 105.50,311.85 105.66,312.14 105.83,309.57 105.99,302.44 106.16,313.43 106.32,307.89 106.49,306.71 106.65,312.80 106.82,313.81 106.98,311.54 107.15,311.59 107.31,307.79 107.48,307.87 107.64,310.00 107.81,311.96 107.97,302.22 108.14,314.19 108.30,310.18 108.47,315.76 108.63,315.81 108.80,312.47 108.96,315.37 109.13,312.55 109.29,301.69 109.46,306.58 109.62,307.22 109.79,305.21 109.95,307.47 110.12,303.82 110.28,313.41 110.45,311.35 110.61,310.33 110.78,312.31 110.94,312.01 111.11,318.65 111.27,309.38 111.44,317.12 111.60,307.48 111.77,311.17 111.93,314.68 112.10,309.96 112.26,312.37 112.43,322.90 112.59,305.64 112.76,314.67 112.92,311.10 113.09,305.29 113.25,307.72 113.42,314.08 113.58,309.40 113.75,309.58 113.91,310.74 114.08,312.33 114.24,310.69 114.41,310.15 114.57,308.67 114.74,315.70 114.90,308.08 115.07,308.86 115.23,309.89 115.40,308.63 115.56,309.16 115.73,312.91 115.89,309.35 116.06,313.84 116.22,310.21 116.39,306.81 116.55,309.05 116.72,310.57 116.88,307.72 117.05,312.20 117.21,313.69 117.38,311.93 117.54,314.73 117.71,307.99 117.87,313.87 118.04,313.16 118.20,317.84 118.37,310.52 118.53,308.75 118.70,303.19 118.86,314.30 119.03,303.51 119.19,311.54 119.36,311.79 119.52,312.49 119.69,310.25 119.85,311.57 120.02,309.40 120.18,312.64 120.35,302.40 120.51,311.66 120.68,314.65 120.84,312.17 121.01,308.69 121.17,310.08 121.34,308.38 121.50,308.46 121.67,303.11 121.83,307.53 122.00,313.59 122.16,302.44 122.33,310.86 122.49,310.22 122.66,311.39 122.82,310.88 122.99,310.82 123.15,314.05 123.32,311.22 123.48,310.01 123.65,318.41 123.81,318.41 123.98,305.74 124.14,307.61 124.31,308.80 124.47,309.83 124.64,307.57 124.80,315.78 124.97,307.13 125.13,310.80 125.30,311.46 125.46,316.93 125.63,313.71 125.79,308.18 125.96,309.95 126.12,313.08 126.29,317.12 126.45,311.42 126.62,311.46 126.78,311.72 126.95,311.06 127.11,308.33 127.28,318.27 127.44,309.68 127.61,306.95 127.77,308.75 127.94,310.99 128.10,312.14 128.27,309.49 128.43,309.77 128.60,311.80 128.76,308.88 128.93,312.45 129.09,311.15 129.26,311.03 129.42,305.75 129.59,311.75 129.75,308.09 129.92,309.35 130.08,315.37 130.25,312.84 130.41,311.08 130.58,295.71 130.74,318.14 130.91,309.08 131.07,311.79 131.24,310.73 131.40,313.23 131.57,309.05 131.73,309.39 131.90,311.04 132.06,316.21 132.23,310.20 132.39,308.05 132.56,304.68 132.72,310.21 132.89,296.46 133.05,308.35 133.22,308.55 133.38,309.90 133.55,308.33 133.71,311.72 133.88,313.52 134.04,315.13 134.21,310.31 134.37,309.73 134.54,309.39 134.70,309.20 134.87,310.05 135.03,307.07 135.20,309.65 135.36,314.38 135.53,314.05 135.69,313.19 135.86,306.74 136.02,305.16 136.19,299.75 136.35,308.16 136.52,307.66 136.68,316.99 136.85,313.72 137.01,307.61 137.18,310.49 137.34,312.85 137.51,309.10 137.67,309.28 137.84,304.89 138.00,311.44 138.17,314.57 138.33,311.08 138.50,310.39 138.66,313.35 138.83,304.96 138.99,310.20 139.16,310.13 139.32,308.51 139.49,311.06 139.65,316.50 139.82,308.78 139.98,307.46 140.15,312.13 140.31,314.26 140.48,307.52 140.64,308.53 140.81,310.45 140.97,308.70 141.14,314.12 141.30,312.30 141.47,309.26 141.63,317.72 141.80,302.44 141.96,312.18 142.13,313.52 142.29,309.33 142.46,310.43 142.62,309.73 142.79,311.25 142.95,310.49 143.12,310.88 143.28,314.51 143.45,305.75 143.61,303.37 143.78,308.18 143.94,317.13 144.11,311.81 144.27,313.61 144.44,308.44 144.60,307.94 144.77,310.63 144.93,311.55 145.10,311.21 145.26,308.55 145.43,310.43 145.59,313.07 145.76,315.33 145.92,311.13 146.09,311.37 146.25,315.76 146.42,313.40 146.58,312.60 146.75,309.87 146.91,309.28 147.08,316.46 147.24,306.68 147.41,307.60 147.57,299.45 147.74,310.41 147.90,310.54 148.07,309.30 148.23,312.56 148.40,312.79 148.56,313.99 148.73,311.14 148.89,311.98 149.06,307.00 149.22,312.28 149.39,311.34 149.55,311.68 149.72,312.30 149.88,313.52 150.05,313.06 150.21,305.88 150.38,311.38 150.54,310.99 150.71,305.16 150.87,314.20 151.04,310.60 151.20,311.77 151.37,306.89 151.53,307.96 151.70,308.87 151.86,306.64 152.03,310.51 152.19,310.85 152.36,313.68 152.52,310.79 152.69,311.57 152.85,311.86 153.02,310.37 153.18,312.99 153.35,310.77 153.51,311.24 153.68,312.10 153.84,312.03 154.01,312.58 154.17,313.40 154.34,309.04 154.50,318.41 154.67,311.79 154.83,309.56 155.00,307.86 155.16,310.63 155.33,308.19 155.49,310.75 155.66,309.59 155.82,312.53 155.99,313.44 156.15,309.28 156.32,316.20 156.48,310.78 156.65,311.68 156.81,312.56 156.98,309.36 157.14,312.58 157.31,310.49 157.47,310.09 157.64,310.11 157.80,310.71 157.97,311.07 158.13,310.96 158.30,296.75 158.46,313.75 158.63,313.62 158.79,311.36 158.96,310.75 159.12,312.24 159.29,308.93 159.45,312.13 159.62,312.42 159.78,313.13 159.95,309.40 160.11,311.17 160.28,312.12 160.44,311.82 160.61,309.66 160.77,309.79 160.94,313.49 161.10,311.42 161.27,308.12 161.43,309.35 161.60,305.44 161.76,314.60 161.93,311.59 162.09,311.40 162.26,309.77 162.42,311.86 162.59,311.39 162.75,310.15 162.92,311.09 163.08,312.55 163.25,309.72 163.41,309.64 163.58,308.68 163.74,310.51 163.91,308.53 164.07,308.82 164.24,311.55 164.40,312.38 164.57,307.31 164.73,310.02 164.90,311.62 165.06,310.25 165.23,311.11 165.39,311.35 165.56,310.25 165.72,313.65 165.89,310.32 166.05,307.98 166.22,310.58 166.38,311.49 166.55,311.93 166.71,309.55 166.88,313.34 167.04,311.63 167.21,309.60 167.37,306.34 167.54,311.09 167.70,310.71 167.87,311.67 168.03,309.38 168.20,313.83 168.36,314.33 168.53,311.93 168.69,309.47 168.86,310.56 169.02,311.27 169.19,311.68 169.35,310.15 169.52,311.07" fill="none" stroke="#FFAA00" stroke-width="2.0" stroke-linejoin="round"/>
<rect x="70.60" y="273.50" width="99.00" height="74.70" fill="none" stroke="#555" stroke-width="1"/>
<line x1="110.20" y1="348.20" x2="110.20" y2="347.00" stroke="#555" stroke-width="0.8"/>
<line x1="110.20" y1="273.50" x2="110.20" y2="274.70" stroke="#555" stroke-width="0.8"/>
<line x1="149.80" y1="348.20" x2="149.80" y2="347.00" stroke="#555" stroke-width="0.8"/>
<line x1="149.80" y1="273.50" x2="149.80" y2="274.70" stroke="#555" stroke-width="0.8"/>
<line x1="70.60" y1="310.85" x2="71.80" y2="310.85" stroke="#555" stroke-width="0.8"/>
<line x1="169.60" y1="310.85" x2="168.40" y2="310.85" stroke="#555" stroke-width="0.8"/>
<text transform="translate(70.60,365.20) scale(0.86,1)" font-size="15.5" text-anchor="middle" font-family='"Liberation Serif", serif' >0</text>
<text transform="translate(110.20,365.20) scale(0.86,1)" font-size="15.5" text-anchor="middle" font-family='"Liberation Serif", serif' >10</text>
<text transform="translate(149.80,365.20) scale(0.86,1)" font-size="15.5" text-anchor="middle" font-family='"Liberation Serif", serif' >20</text>
<text transform="translate(65.30,277.10) scale(0.86,1)" font-size="15.5" text-anchor="end" font-family='"Liberation Serif", serif' >0.2</text>
<text transform="translate(65.30,314.45) scale(0.86,1)" font-size="15.5" text-anchor="end" font-family='"Liberation Serif", serif' >0</text>
<text transform="translate(65.30,351.80) scale(0.86,1)" font-size="15.5" text-anchor="end" font-family='"Liberation Serif", serif' >-0.2</text>
<g transform="translate(36.10,310.85) rotate(-90)" font-size="14" font-family='"Liberation Serif", serif' font-style="italic"><text x="-7.6" y="0">δ</text><text x="-0.6" y="0">ϕ</text></g>
<clipPath id="cp21"><rect x="233.3" y="273.5" width="99.69999999999999" height="74.69999999999999"/></clipPath>
<polyline clip-path="url(#cp21)" points="233.38,313.13 233.55,309.71 233.72,307.48 233.88,308.75 234.05,307.85 234.21,308.24 234.38,303.61 234.55,310.30 234.71,308.84 234.88,310.30 235.04,314.15 235.21,313.29 235.38,309.51 235.54,312.41 235.71,310.29 235.88,312.21 236.04,300.20 236.21,312.72 236.37,315.64 236.54,314.12 236.71,309.72 236.87,316.74 237.04,314.51 237.20,311.40 237.37,308.19 237.54,309.92 237.70,310.26 237.87,314.65 238.04,302.19 238.20,302.05 238.37,308.91 238.53,312.53 238.70,313.11 238.87,311.57 239.03,296.46 239.20,316.16 239.37,305.75 239.53,310.61 239.70,310.95 239.86,310.53 240.03,309.69 240.20,309.99 240.36,309.22 240.53,308.04 240.69,308.80 240.86,313.25 241.03,315.38 241.19,296.16 241.36,317.99 241.53,308.78 241.69,313.73 241.86,315.38 242.02,307.84 242.19,305.40 242.36,307.29 242.52,310.47 242.69,312.13 242.85,309.34 243.02,318.85 243.19,308.96 243.35,312.00 243.52,307.70 243.69,312.25 243.85,309.05 244.02,311.68 244.18,315.41 244.35,312.03 244.52,311.62 244.68,315.98 244.85,310.48 245.01,293.46 245.18,310.66 245.35,311.26 245.51,311.65 245.68,311.76 245.85,312.87 246.01,314.08 246.18,309.89 246.34,315.74 246.51,308.55 246.68,309.40 246.84,314.06 247.01,308.70 247.17,306.13 247.34,310.29 247.51,307.69 247.67,318.85 247.84,309.66 248.01,305.44 248.17,309.29 248.34,312.06 248.50,311.46 248.67,314.78 248.84,309.72 249.00,310.37 249.17,309.74 249.34,309.60 249.50,315.81 249.67,307.83 249.83,315.49 250.00,309.77 250.17,309.28 250.33,309.39 250.50,312.72 250.66,307.82 250.83,314.24 251.00,300.20 251.16,310.94 251.33,313.47 251.50,312.86 251.66,315.36 251.83,316.69 251.99,308.01 252.16,314.39 252.33,316.46 252.49,308.13 252.66,309.15 252.82,313.70 252.99,312.42 253.16,287.17 253.32,313.38 253.49,312.44 253.66,311.20 253.82,305.47 253.99,310.19 254.15,307.57 254.32,306.95 254.49,313.25 254.65,308.27 254.82,302.80 254.98,308.08 255.15,307.74 255.32,314.48 255.48,315.89 255.65,311.15 255.82,305.64 255.98,311.23 256.15,300.20 256.31,311.13 256.48,311.42 256.65,311.25 256.81,311.06 256.98,307.65 257.14,307.70 257.31,307.88 257.48,312.32 257.64,313.09 257.81,316.45 257.98,312.58 258.14,313.70 258.31,314.06 258.47,308.50 258.64,310.38 258.81,310.29 258.97,307.98 259.14,300.20 259.31,312.77 259.47,310.28 259.64,311.44 259.80,309.59 259.97,310.57 260.14,311.33 260.30,308.30 260.47,314.06 260.63,312.16 260.80,310.90 260.97,309.39 261.13,302.05 261.30,309.58 261.47,306.19 261.63,305.84 261.80,310.05 261.96,309.58 262.13,319.60 262.30,309.63 262.46,307.37 262.63,310.19 262.79,309.25 262.96,318.05 263.13,311.07 263.29,307.69 263.46,313.39 263.63,312.68 263.79,308.80 263.96,281.49 264.12,310.30 264.29,315.95 264.46,315.71 264.62,311.53 264.79,310.22 264.95,306.83 265.12,312.52 265.29,307.98 265.45,305.36 265.62,313.90 265.79,310.51 265.95,309.55 266.12,309.97 266.28,310.62 266.45,311.99 266.62,301.69 266.78,313.96 266.95,314.12 267.11,309.65 267.28,315.14 267.45,311.91 267.61,310.60 267.78,312.00 267.95,311.10 268.11,307.03 268.28,312.00 268.44,308.89 268.61,310.41 268.78,309.64 268.94,316.11 269.11,308.59 269.28,311.00 269.44,310.73 269.61,294.96 269.77,312.19 269.94,315.65 270.11,316.08 270.27,312.54 270.44,308.41 270.60,308.71 270.77,317.16 270.94,309.99 271.10,310.18 271.27,308.84 271.44,312.78 271.60,310.54 271.77,312.04 271.93,308.41 272.10,312.14 272.27,284.48 272.43,308.13 272.60,306.74 272.76,302.05 272.93,308.58 273.10,316.55 273.26,310.69 273.43,310.64 273.60,306.82 273.76,310.35 273.93,310.35 274.09,306.19 274.26,309.46 274.43,318.59 274.59,305.54 274.76,312.14 274.92,305.89 275.09,307.85 275.26,304.44 275.42,311.40 275.59,313.40 275.76,305.14 275.92,312.56 276.09,309.99 276.25,312.47 276.42,311.51 276.59,306.73 276.75,308.61 276.92,302.05 277.08,307.82 277.25,307.88 277.42,312.31 277.58,311.29 277.75,313.99 277.92,318.85 278.08,310.12 278.25,310.14 278.41,313.38 278.58,308.73 278.75,310.13 278.91,311.67 279.08,312.64 279.25,311.75 279.41,296.16 279.58,312.28 279.74,308.45 279.91,308.29 280.08,309.72 280.24,308.04 280.41,304.81 280.57,308.44 280.74,311.20 280.91,313.40 281.07,308.45 281.24,308.72 281.41,310.61 281.57,310.64 281.74,312.36 281.90,309.24 282.07,308.19 282.24,313.35 282.40,321.40 282.57,312.72 282.73,290.47 282.90,311.17 283.07,310.56 283.23,310.56 283.40,312.83 283.57,308.06 283.73,313.58 283.90,311.37 284.06,306.99 284.23,318.85 284.40,309.53 284.56,312.91 284.73,325.14 284.89,308.98 285.06,314.94 285.23,307.65 285.39,295.71 285.56,308.42 285.73,308.39 285.89,307.11 286.06,312.81 286.22,312.41 286.39,310.39 286.56,314.55 286.72,312.34 286.89,312.85 287.05,309.77 287.22,314.11 287.39,314.06 287.55,307.10 287.72,311.32 287.89,311.23 288.05,311.42 288.22,313.74 288.38,312.40 288.55,309.68 288.72,306.53 288.88,311.53 289.05,311.54 289.22,324.40 289.38,302.05 289.55,318.34 289.71,311.22 289.88,302.50 290.05,312.80 290.21,312.35 290.38,313.50 290.54,311.87 290.71,298.70 290.88,315.22 291.04,307.90 291.21,309.01 291.38,307.98 291.54,309.18 291.71,312.41 291.87,305.87 292.04,313.17 292.21,319.90 292.37,311.92 292.54,310.15 292.70,309.82 292.87,313.59 293.04,314.19 293.20,309.93 293.37,312.66 293.54,312.68 293.70,305.44 293.87,305.92 294.03,309.11 294.20,303.32 294.37,311.13 294.53,311.63 294.70,302.78 294.86,315.02 295.03,311.92 295.20,309.75 295.36,309.16 295.53,312.35 295.70,305.65 295.86,302.05 296.03,317.88 296.19,311.52 296.36,311.26 296.53,310.55 296.69,286.72 296.86,324.40 297.02,309.38 297.19,311.74 297.36,312.86 297.52,314.43 297.69,305.61 297.86,312.41 298.02,308.55 298.19,310.45 298.35,315.81 298.52,310.78 298.69,317.55 298.85,315.89 299.02,309.25 299.19,307.27 299.35,311.94 299.52,311.33 299.68,312.69 299.85,313.09 300.02,306.08 300.18,312.60 300.35,313.74 300.51,313.50 300.68,309.14 300.85,312.73 301.01,312.44 301.18,300.20 301.35,314.51 301.51,305.62 301.68,311.81 301.84,310.31 302.01,306.70 302.18,314.06 302.34,313.27 302.51,303.98 302.67,325.14 302.84,302.05 303.01,302.05 303.17,311.16 303.34,308.83 303.51,312.31 303.67,318.85 303.84,309.04 304.00,311.43 304.17,311.23 304.34,309.82 304.50,288.67 304.67,313.53 304.83,309.67 305.00,312.23 305.17,310.58 305.33,309.13 305.50,318.85 305.67,309.84 305.83,311.85 306.00,308.68 306.16,310.68 306.33,309.72 306.50,309.10 306.66,309.68 306.83,302.05 306.99,312.54 307.16,293.46 307.33,309.94 307.49,318.85 307.66,311.31 307.83,307.62 307.99,304.26 308.16,302.12 308.32,309.03 308.49,311.53 308.66,313.15 308.82,305.99 308.99,310.93 309.16,308.89 309.32,312.41 309.49,310.73 309.65,291.96 309.82,310.86 309.99,309.46 310.15,312.27 310.32,310.74 310.48,305.95 310.65,310.43 310.82,308.13 310.98,310.92 311.15,312.31 311.32,310.06 311.48,311.93 311.65,291.96 311.81,302.33 311.98,310.06 312.15,318.85 312.31,317.43 312.48,313.37 312.64,313.60 312.81,311.37 312.98,312.08 313.14,311.82 313.31,306.47 313.48,310.03 313.64,309.23 313.81,309.27 313.97,310.89 314.14,310.76 314.31,311.32 314.47,312.30 314.64,307.20 314.80,310.25 314.97,310.79 315.14,304.30 315.30,309.85 315.47,318.85 315.64,312.00 315.80,315.08 315.97,311.98 316.13,299.45 316.30,309.91 316.47,313.41 316.63,307.86 316.80,309.68 316.96,311.63 317.13,310.70 317.30,307.14 317.46,311.93 317.63,310.62 317.80,302.05 317.96,307.88 318.13,311.36 318.29,311.15 318.46,307.40 318.63,312.05 318.79,340.56 318.96,308.49 319.13,296.46 319.29,309.43 319.46,310.31 319.62,310.38 319.79,308.62 319.96,310.46 320.12,310.07 320.29,312.51 320.45,313.81 320.62,313.93 320.79,309.47 320.95,311.91 321.12,308.93 321.29,314.43 321.45,312.33 321.62,309.70 321.78,296.46 321.95,306.93 322.12,311.52 322.28,313.47 322.45,309.06 322.61,309.33 322.78,302.05 322.95,307.44 323.11,308.59 323.28,312.53 323.45,311.10 323.61,311.02 323.78,311.60 323.94,312.30 324.11,306.81 324.28,309.76 324.44,315.21 324.61,314.91 324.77,302.05 324.94,308.91 325.11,319.60 325.27,307.86 325.44,292.26 325.61,311.24 325.77,314.22 325.94,302.05 326.10,308.64 326.27,309.05 326.44,311.64 326.60,313.09 326.77,313.03 326.93,312.70 327.10,309.39 327.27,311.57 327.43,309.76 327.60,311.97 327.77,307.16 327.93,311.48 328.10,305.44 328.26,307.77 328.43,316.35 328.60,318.85 328.76,313.68 328.93,310.66 329.10,306.65 329.26,310.01 329.43,311.25 329.59,302.77 329.76,311.21 329.93,310.31 330.09,310.14 330.26,310.11 330.42,311.39 330.59,309.74 330.76,311.21 330.92,302.73 331.09,310.22 331.26,312.17 331.42,310.15 331.59,311.67 331.75,296.16 331.92,313.91 332.09,312.29 332.25,309.39 332.42,307.61 332.58,310.61 332.75,312.36 332.92,311.05" fill="none" stroke="#FFAA00" stroke-width="2.0" stroke-linejoin="round"/>
<rect x="233.30" y="273.50" width="99.70" height="74.70" fill="none" stroke="#555" stroke-width="1"/>
<line x1="273.18" y1="348.20" x2="273.18" y2="347.00" stroke="#555" stroke-width="0.8"/>
<line x1="273.18" y1="273.50" x2="273.18" y2="274.70" stroke="#555" stroke-width="0.8"/>
<line x1="313.06" y1="348.20" x2="313.06" y2="347.00" stroke="#555" stroke-width="0.8"/>
<line x1="313.06" y1="273.50" x2="313.06" y2="274.70" stroke="#555" stroke-width="0.8"/>
<line x1="233.30" y1="310.85" x2="234.50" y2="310.85" stroke="#555" stroke-width="0.8"/>
<line x1="333.00" y1="310.85" x2="331.80" y2="310.85" stroke="#555" stroke-width="0.8"/>
<text transform="translate(233.30,365.20) scale(0.86,1)" font-size="15.5" text-anchor="middle" font-family='"Liberation Serif", serif' >0</text>
<text transform="translate(273.18,365.20) scale(0.86,1)" font-size="15.5" text-anchor="middle" font-family='"Liberation Serif", serif' >10</text>
<text transform="translate(313.06,365.20) scale(0.86,1)" font-size="15.5" text-anchor="middle" font-family='"Liberation Serif", serif' >20</text>
<text transform="translate(228.00,277.10) scale(0.86,1)" font-size="15.5" text-anchor="end" font-family='"Liberation Serif", serif' >0.2</text>
<text transform="translate(228.00,314.45) scale(0.86,1)" font-size="15.5" text-anchor="end" font-family='"Liberation Serif", serif' >0</text>
<text transform="translate(228.00,351.80) scale(0.86,1)" font-size="15.5" text-anchor="end" font-family='"Liberation Serif", serif' >-0.2</text>
<g transform="translate(198.80,310.85) rotate(-90)" font-size="14" font-family='"Liberation Serif", serif' font-style="italic"><text x="-7.6" y="0">δ</text><text x="-0.6" y="0">ϕ</text></g>
<clipPath id="cp30"><rect x="70.6" y="398.0" width="99.0" height="74.5"/></clipPath>
<polyline clip-path="url(#cp30)" points="70.68,429.63 70.85,433.77 71.01,437.74 71.18,434.63 71.34,432.35 71.51,447.90 71.67,442.11 71.84,436.94 72.00,433.94 72.17,429.05 72.33,436.49 72.50,436.77 72.66,431.26 72.83,438.37 72.99,424.45 73.16,437.89 73.32,434.98 73.49,431.73 73.65,439.39 73.82,437.09 73.98,435.92 74.15,436.00 74.31,431.50 74.48,431.69 74.64,436.76 74.81,431.63 74.97,435.98 75.14,435.12 75.30,432.76 75.47,438.86 75.63,434.47 75.80,436.58 75.96,434.73 76.13,437.75 76.29,431.38 76.46,437.39 76.62,437.53 76.79,447.90 76.95,438.09 77.12,434.40 77.28,431.16 77.45,430.44 77.61,434.47 77.78,435.98 77.94,444.85 78.11,438.42 78.27,429.44 78.44,426.81 78.60,436.29 78.77,432.35 78.93,434.40 79.10,433.06 79.26,437.46 79.43,431.94 79.59,438.27 79.76,434.48 79.92,433.27 80.09,435.80 80.25,428.78 80.42,425.95 80.58,433.01 80.75,444.85 80.91,433.74 81.08,436.36 81.24,426.80 81.41,435.83 81.57,438.17 81.74,438.39 81.90,437.59 82.07,436.25 82.23,440.51 82.40,439.21 82.56,428.08 82.73,444.90 82.89,436.56 83.06,434.59 83.22,434.21 83.39,432.22 83.55,435.52 83.72,437.34 83.88,432.03 84.05,436.71 84.21,421.46 84.38,434.30 84.54,436.31 84.71,435.47 84.87,435.96 85.04,435.81 85.20,435.45 85.37,444.61 85.53,436.97 85.70,439.09 85.86,436.00 86.03,436.09 86.19,434.26 86.36,432.69 86.52,438.84 86.69,438.38 86.85,433.96 87.02,433.49 87.18,435.13 87.35,436.87 87.51,432.05 87.68,430.52 87.84,430.21 88.01,442.65 88.17,436.66 88.34,433.94 88.50,435.56 88.67,435.72 88.83,434.76 89.00,441.41 89.16,417.26 89.33,441.32 89.49,435.08 89.66,443.34 89.82,433.63 89.99,432.93 90.15,434.33 90.32,432.16 90.48,434.48 90.65,433.90 90.81,436.35 90.98,434.21 91.14,433.15 91.31,430.15 91.47,444.85 91.64,427.44 91.80,438.39 91.97,433.43 92.13,425.65 92.30,433.76 92.46,436.85 92.63,441.34 92.79,436.38 92.96,436.79 93.12,436.24 93.29,429.77 93.45,439.70 93.62,438.44 93.78,433.06 93.95,443.71 94.11,435.37 94.28,439.98 94.44,434.07 94.61,439.99 94.77,419.96 94.94,431.42 95.10,425.65 95.27,439.04 95.43,434.05 95.60,437.69 95.76,437.42 95.93,429.95 96.09,442.50 96.26,432.32 96.42,435.75 96.59,440.70 96.75,438.62 96.92,437.05 97.08,425.65 97.25,436.90 97.41,436.61 97.58,437.12 97.74,425.20 97.91,440.18 98.07,436.18 98.24,431.53 98.40,433.97 98.57,440.34 98.73,435.06 98.90,425.65 99.06,439.46 99.23,435.31 99.39,435.46 99.56,435.45 99.72,433.52 99.89,423.70 100.05,427.72 100.22,426.03 100.38,439.28 100.55,438.34 100.71,440.43 100.88,434.65 101.04,437.57 101.21,438.21 101.37,454.63 101.54,435.67 101.70,435.42 101.87,429.31 102.03,434.62 102.20,422.95 102.36,433.14 102.53,435.28 102.69,425.65 102.86,444.85 103.02,433.02 103.19,431.39 103.35,439.11 103.52,436.58 103.68,433.18 103.85,438.16 104.01,444.60 104.18,432.67 104.34,436.96 104.51,434.77 104.67,428.39 104.84,427.65 105.00,427.18 105.17,427.44 105.33,432.07 105.50,436.29 105.66,435.09 105.83,432.43 105.99,436.23 106.16,427.99 106.32,436.66 106.49,429.71 106.65,435.24 106.82,435.51 106.98,439.41 107.15,435.95 107.31,437.02 107.48,442.31 107.64,436.80 107.81,438.62 107.97,437.06 108.14,436.50 108.30,433.55 108.47,436.41 108.63,428.00 108.80,441.07 108.96,443.41 109.13,434.47 109.29,435.12 109.46,438.11 109.62,433.98 109.79,432.51 109.95,437.46 110.12,424.45 110.28,425.65 110.45,434.84 110.61,431.14 110.78,434.92 110.94,437.44 111.11,440.07 111.27,434.20 111.44,431.60 111.60,434.16 111.77,435.62 111.93,440.45 112.10,434.36 112.26,436.18 112.43,434.94 112.59,433.04 112.76,433.99 112.92,434.90 113.09,429.23 113.25,432.23 113.42,440.79 113.58,435.04 113.75,433.94 113.91,437.00 114.08,440.08 114.24,438.79 114.41,431.70 114.57,438.63 114.74,439.45 114.90,411.72 115.07,460.62 115.23,436.32 115.40,432.71 115.56,433.67 115.73,440.73 115.89,434.98 116.06,435.47 116.22,432.78 116.39,429.92 116.55,436.41 116.72,430.37 116.88,433.30 117.05,436.49 117.21,434.11 117.38,432.48 117.54,440.02 117.71,433.67 117.87,428.94 118.04,434.84 118.20,449.40 118.37,432.29 118.53,432.99 118.70,435.02 118.86,431.68 119.03,432.46 119.19,425.65 119.36,431.43 119.52,440.68 119.69,437.45 119.85,431.01 120.02,436.15 120.18,438.01 120.35,436.21 120.51,434.32 120.68,434.55 120.84,432.58 121.01,433.71 121.17,444.11 121.34,462.57 121.50,434.20 121.67,434.19 121.83,431.93 122.00,430.70 122.16,419.96 122.33,434.88 122.49,436.85 122.66,433.56 122.82,436.36 122.99,431.97 123.15,435.94 123.32,434.39 123.48,433.75 123.65,434.05 123.81,433.31 123.98,435.42 124.14,431.71 124.31,437.19 124.47,431.03 124.64,437.59 124.80,430.88 124.97,434.63 125.13,436.13 125.30,437.56 125.46,435.25 125.63,423.70 125.79,437.77 125.96,436.12 126.12,438.06 126.29,431.67 126.45,437.31 126.62,437.53 126.78,435.24 126.95,431.44 127.11,435.73 127.28,434.50 127.44,433.05 127.61,444.85 127.77,435.69 127.94,444.85 128.10,437.41 128.27,432.68 128.43,439.61 128.60,428.59 128.76,434.55 128.93,436.43 129.09,435.92 129.26,433.56 129.42,427.33 129.59,428.95 129.75,441.19 129.92,419.96 130.08,443.41 130.25,433.35 130.41,436.73 130.58,425.65 130.74,436.95 130.91,426.67 131.07,439.26 131.24,435.38 131.40,433.67 131.57,438.12 131.73,435.24 131.90,436.61 132.06,435.85 132.23,439.53 132.39,431.32 132.56,435.25 132.72,433.83 132.89,433.41 133.05,437.15 133.22,436.89 133.38,434.72 133.55,431.60 133.71,432.50 133.88,433.75 134.04,422.95 134.21,437.50 134.37,439.21 134.54,429.59 134.70,432.90 134.87,435.67 135.03,436.57 135.20,427.10 135.36,438.32 135.53,443.67 135.69,438.22 135.86,438.06 136.02,435.67 136.19,425.65 136.35,433.80 136.52,431.52 136.68,425.65 136.85,443.27 137.01,440.16 137.18,440.39 137.34,456.58 137.51,433.84 137.67,435.59 137.84,433.66 138.00,437.07 138.17,424.45 138.33,436.17 138.50,433.81 138.66,438.38 138.83,435.84 138.99,442.79 139.16,438.09 139.32,434.78 139.49,441.06 139.65,439.60 139.82,433.56 139.98,432.26 140.15,434.25 140.31,431.55 140.48,434.26 140.64,436.41 140.81,437.79 140.97,437.33 141.14,436.97 141.30,431.57 141.47,435.73 141.63,430.59 141.80,429.69 141.96,442.33 142.13,437.64 142.29,432.36 142.46,440.62 142.62,438.52 142.79,428.52 142.95,431.61 143.12,441.37 143.28,443.41 143.45,433.23 143.61,444.85 143.78,435.09 143.94,433.94 144.11,435.25 144.27,439.11 144.44,437.37 144.60,434.73 144.77,435.74 144.93,424.45 145.10,432.59 145.26,439.81 145.43,435.09 145.59,439.61 145.76,436.85 145.92,435.22 146.09,437.11 146.25,431.20 146.42,435.45 146.58,437.84 146.75,435.09 146.91,436.52 147.08,438.09 147.24,440.89 147.41,431.99 147.57,432.54 147.74,440.32 147.90,434.57 148.07,434.94 148.23,432.37 148.40,434.49 148.56,423.25 148.73,436.93 148.89,435.87 149.06,431.25 149.22,434.43 149.39,437.54 149.55,434.40 149.72,437.09 149.88,436.25 150.05,434.02 150.21,433.81 150.38,436.94 150.54,431.59 150.71,435.34 150.87,438.80 151.04,434.86 151.20,434.10 151.37,436.77 151.53,436.68 151.70,436.95 151.86,441.07 152.03,435.12 152.19,433.73 152.36,443.22 152.52,425.65 152.69,443.30 152.85,431.35 153.02,423.25 153.18,435.09 153.35,438.87 153.51,432.25 153.68,443.44 153.84,436.28 154.01,425.65 154.17,437.52 154.34,436.92 154.50,431.65 154.67,433.63 154.83,436.97 155.00,432.08 155.16,433.82 155.33,439.24 155.49,433.60 155.66,431.92 155.82,434.36 155.99,434.24 156.15,436.77 156.32,435.96 156.48,435.90 156.65,440.19 156.81,422.20 156.98,433.83 157.14,435.46 157.31,433.14 157.47,437.36 157.64,439.10 157.80,433.27 157.97,443.68 158.13,435.55 158.30,430.69 158.46,432.52 158.63,436.55 158.79,439.68 158.96,425.65 159.12,433.33 159.29,435.52 159.45,444.85 159.62,438.29 159.78,436.39 159.95,425.65 160.11,425.65 160.28,443.38 160.44,435.17 160.61,412.77 160.77,435.95 160.94,444.85 161.10,435.40 161.27,434.20 161.43,430.39 161.60,431.94 161.76,434.59 161.93,433.46 162.09,440.31 162.26,436.46 162.42,434.92 162.59,441.13 162.75,441.61 162.92,436.73 163.08,435.57 163.25,428.54 163.41,437.10 163.58,436.59 163.74,435.75 163.91,438.83 164.07,441.98 164.24,434.27 164.40,433.04 164.57,432.78 164.73,434.44 164.90,434.60 165.06,433.83 165.23,436.13 165.39,433.11 165.56,438.26 165.72,429.12 165.89,416.22 166.05,434.88 166.22,431.92 166.38,441.59 166.55,433.76 166.71,435.14 166.88,444.85 167.04,438.43 167.21,436.42 167.37,435.90 167.54,431.08 167.70,432.48 167.87,434.76 168.03,435.88 168.20,437.22 168.36,437.04 168.53,434.54 168.69,432.61 168.86,425.95 169.02,431.60 169.19,437.28 169.35,436.48 169.52,444.85" fill="none" stroke="#FF5500" stroke-width="2.0" stroke-linejoin="round"/>
<rect x="70.60" y="398.00" width="99.00" height="74.50" fill="none" stroke="#555" stroke-width="1"/>
<line x1="110.20" y1="472.50" x2="110.20" y2="471.30" stroke="#555" stroke-width="0.8"/>
<line x1="110.20" y1="398.00" x2="110.20" y2="399.20" stroke="#555" stroke-width="0.8"/>
<line x1="149.80" y1="472.50" x2="149.80" y2="471.30" stroke="#555" stroke-width="0.8"/>
<line x1="149.80" y1="398.00" x2="149.80" y2="399.20" stroke="#555" stroke-width="0.8"/>
<line x1="70.60" y1="435.25" x2="71.80" y2="435.25" stroke="#555" stroke-width="0.8"/>
<line x1="169.60" y1="435.25" x2="168.40" y2="435.25" stroke="#555" stroke-width="0.8"/>
<text transform="translate(70.60,489.50) scale(0.86,1)" font-size="15.5" text-anchor="middle" font-family='"Liberation Serif", serif' >0</text>
<text transform="translate(110.20,489.50) scale(0.86,1)" font-size="15.5" text-anchor="middle" font-family='"Liberation Serif", serif' >10</text>
<text transform="translate(149.80,489.50) scale(0.86,1)" font-size="15.5" text-anchor="middle" font-family='"Liberation Serif", serif' >20</text>
<text transform="translate(65.30,401.60) scale(0.86,1)" font-size="15.5" text-anchor="end" font-family='"Liberation Serif", serif' >0.2</text>
<text transform="translate(65.30,438.85) scale(0.86,1)" font-size="15.5" text-anchor="end" font-family='"Liberation Serif", serif' >0</text>
<text transform="translate(65.30,476.10) scale(0.86,1)" font-size="15.5" text-anchor="end" font-family='"Liberation Serif", serif' >-0.2</text>
<g transform="translate(36.10,435.25) rotate(-90)" font-size="14" font-family='"Liberation Serif", serif' font-style="italic"><text x="-7.6" y="0">δ</text><text x="-0.6" y="0">ϕ</text></g>
<clipPath id="cp31"><rect x="233.3" y="398.0" width="99.69999999999999" height="74.5"/></clipPath>
<polyline clip-path="url(#cp31)" points="233.38,431.96 233.55,437.17 233.72,437.97 233.88,434.11 234.05,432.25 234.21,435.51 234.38,435.32 234.55,431.27 234.71,438.10 234.88,437.93 235.04,435.35 235.21,422.20 235.38,435.77 235.54,438.68 235.71,429.43 235.88,423.75 236.04,444.62 236.21,431.98 236.37,429.46 236.54,435.24 236.71,435.07 236.87,432.84 237.04,432.24 237.20,431.25 237.37,434.82 237.54,442.56 237.70,440.01 237.87,441.84 238.04,428.00 238.20,435.60 238.37,439.20 238.53,430.02 238.70,433.66 238.87,438.56 239.03,435.01 239.20,436.78 239.37,427.77 239.53,439.18 239.70,440.13 239.86,426.16 240.03,442.81 240.20,434.54 240.36,429.26 240.53,413.97 240.69,438.41 240.86,433.88 241.03,421.48 241.19,432.44 241.36,442.30 241.53,436.98 241.69,427.73 241.86,437.69 242.02,442.66 242.19,424.15 242.36,434.11 242.52,442.52 242.69,436.70 242.85,430.93 243.02,440.13 243.19,437.83 243.35,434.63 243.52,416.22 243.69,434.82 243.85,434.93 244.02,435.83 244.18,424.31 244.35,442.31 244.52,440.32 244.68,425.95 244.85,434.61 245.01,429.35 245.18,432.02 245.35,432.67 245.51,429.45 245.68,438.11 245.85,440.48 246.01,443.78 246.18,436.39 246.34,435.33 246.51,435.82 246.68,442.65 246.84,427.89 247.01,432.78 247.17,434.02 247.34,436.53 247.51,435.98 247.67,433.30 247.84,436.91 248.01,425.99 248.17,448.05 248.34,443.73 248.50,447.76 248.67,418.46 248.84,432.71 249.00,442.42 249.17,430.97 249.34,428.65 249.50,440.35 249.67,434.34 249.83,433.61 250.00,434.32 250.17,434.21 250.33,437.83 250.50,431.34 250.66,436.45 250.83,433.24 251.00,436.02 251.16,435.69 251.33,436.93 251.50,433.87 251.66,434.05 251.83,439.72 251.99,438.45 252.16,435.45 252.33,436.44 252.49,437.00 252.66,437.75 252.82,436.75 252.99,439.03 253.16,436.16 253.32,437.57 253.49,436.51 253.66,436.15 253.82,441.08 253.99,422.20 254.15,428.86 254.32,434.69 254.49,448.05 254.65,437.79 254.82,434.86 254.98,440.19 255.15,436.00 255.32,437.65 255.48,451.64 255.65,436.02 255.82,439.78 255.98,426.95 256.15,426.99 256.31,437.60 256.48,431.68 256.65,441.77 256.81,438.54 256.98,429.34 257.14,429.24 257.31,442.91 257.48,436.21 257.64,430.32 257.81,435.10 257.98,435.09 258.14,439.86 258.31,422.73 258.47,412.47 258.64,432.18 258.81,435.71 258.97,436.16 259.14,439.22 259.31,432.64 259.47,433.16 259.64,421.17 259.80,433.01 259.97,433.11 260.14,431.74 260.30,435.03 260.47,430.09 260.63,450.89 260.80,440.08 260.97,435.10 261.13,442.78 261.30,445.53 261.47,448.05 261.63,425.34 261.80,440.53 261.96,436.99 262.13,417.71 262.30,435.85 262.46,438.44 262.63,435.72 262.79,428.70 262.96,433.23 263.13,431.63 263.29,432.94 263.46,437.03 263.63,439.09 263.79,427.77 263.96,438.70 264.12,433.15 264.29,429.19 264.46,439.93 264.62,434.59 264.79,433.23 264.95,434.78 265.12,441.94 265.29,440.82 265.45,444.80 265.62,429.95 265.79,433.39 265.95,434.04 266.12,434.34 266.28,426.64 266.45,433.65 266.62,429.04 266.78,430.41 266.95,432.99 267.11,430.35 267.28,443.94 267.45,444.95 267.61,444.08 267.78,443.02 267.95,430.53 268.11,439.60 268.28,429.47 268.44,441.97 268.61,438.09 268.78,435.05 268.94,421.49 269.11,436.58 269.28,440.32 269.44,441.26 269.61,443.12 269.77,426.79 269.94,438.46 270.11,437.56 270.27,421.17 270.44,440.45 270.60,428.62 270.77,454.63 270.94,437.26 271.10,426.38 271.27,436.80 271.44,429.22 271.60,435.27 271.77,429.47 271.93,430.54 272.10,439.27 272.27,413.67 272.43,433.27 272.60,437.87 272.76,433.68 272.93,428.54 273.10,426.31 273.26,435.61 273.43,436.50 273.60,440.36 273.76,431.04 273.93,433.73 274.09,428.80 274.26,439.53 274.43,437.44 274.59,439.06 274.76,429.47 274.92,426.82 275.09,434.45 275.26,432.78 275.42,433.69 275.59,433.93 275.76,430.46 275.92,434.94 276.09,443.97 276.25,427.49 276.42,434.20 276.59,432.29 276.75,444.60 276.92,437.85 277.08,428.39 277.25,437.55 277.42,436.27 277.58,429.68 277.75,427.51 277.92,421.46 278.08,433.48 278.25,432.93 278.41,448.05 278.58,439.55 278.75,439.47 278.91,429.71 279.08,434.54 279.25,439.02 279.41,429.66 279.58,435.88 279.74,436.93 279.91,434.90 280.08,430.72 280.24,421.65 280.41,436.83 280.57,431.40 280.74,433.14 280.91,399.30 281.07,438.27 281.24,429.75 281.41,434.49 281.57,426.39 281.74,433.38 281.90,428.80 282.07,436.58 282.24,434.85 282.40,437.44 282.57,435.13 282.73,433.15 282.90,436.14 283.07,438.79 283.23,436.62 283.40,448.05 283.57,430.64 283.73,438.20 283.90,440.22 284.06,436.51 284.23,432.82 284.40,431.86 284.56,433.28 284.73,430.57 284.89,434.70 285.06,435.37 285.23,439.13 285.39,436.53 285.56,440.76 285.73,433.70 285.89,436.74 286.06,438.23 286.22,435.74 286.39,440.82 286.56,432.02 286.72,428.47 286.89,427.33 287.05,438.24 287.22,438.59 287.39,439.89 287.55,436.03 287.72,439.51 287.89,432.79 288.05,445.32 288.22,439.03 288.38,432.81 288.55,434.64 288.72,430.75 288.88,429.20 289.05,435.01 289.22,435.14 289.38,432.97 289.55,429.37 289.71,432.28 289.88,430.97 290.05,435.49 290.21,429.39 290.38,437.00 290.54,435.99 290.71,409.18 290.88,436.41 291.04,432.48 291.21,441.15 291.38,438.88 291.54,435.84 291.71,438.09 291.87,439.00 292.04,434.76 292.21,430.19 292.37,435.20 292.54,432.94 292.70,438.03 292.87,447.15 293.04,441.78 293.20,432.63 293.37,445.00 293.54,441.20 293.70,430.55 293.87,428.15 294.03,421.17 294.20,436.75 294.37,435.16 294.53,431.45 294.70,429.12 294.86,435.00 295.03,431.26 295.20,435.54 295.36,434.01 295.53,443.71 295.70,434.99 295.86,456.88 296.03,437.29 296.19,428.32 296.36,437.95 296.53,433.83 296.69,438.25 296.86,438.95 297.02,437.46 297.19,437.20 297.36,416.96 297.52,428.97 297.69,429.51 297.86,434.93 298.02,435.08 298.19,435.42 298.35,439.84 298.52,426.40 298.69,446.62 298.85,437.77 299.02,447.88 299.19,437.16 299.35,439.09 299.52,437.28 299.68,415.47 299.85,433.84 300.02,438.95 300.18,433.97 300.35,431.16 300.51,433.72 300.68,436.20 300.85,422.53 301.01,437.50 301.18,437.85 301.35,442.89 301.51,431.45 301.68,430.62 301.84,434.20 302.01,431.51 302.18,430.92 302.34,439.17 302.51,439.04 302.67,438.82 302.84,432.04 303.01,438.43 303.17,434.16 303.34,425.93 303.51,430.46 303.67,445.27 303.84,438.41 304.00,432.36 304.17,411.72 304.34,439.05 304.50,427.22 304.67,432.56 304.83,437.28 305.00,439.15 305.17,440.03 305.33,436.53 305.50,444.14 305.67,434.93 305.83,441.65 306.00,409.48 306.16,435.37 306.33,421.17 306.50,435.71 306.66,433.71 306.83,431.88 306.99,436.24 307.16,453.89 307.33,434.36 307.49,430.87 307.66,421.17 307.83,438.24 307.99,437.01 308.16,428.93 308.32,423.73 308.49,440.68 308.66,445.09 308.82,432.12 308.99,435.84 309.16,434.92 309.32,463.62 309.49,429.37 309.65,442.39 309.82,436.25 309.99,433.45 310.15,416.66 310.32,436.77 310.48,433.75 310.65,433.93 310.82,434.30 310.98,432.31 311.15,433.82 311.32,427.28 311.48,439.68 311.65,426.44 311.81,437.66 311.98,448.05 312.15,427.65 312.31,435.01 312.48,441.21 312.64,438.51 312.81,429.40 312.98,439.34 313.14,427.56 313.31,435.11 313.48,438.89 313.64,433.43 313.81,399.30 313.97,427.19 314.14,434.70 314.31,436.03 314.47,433.46 314.64,456.13 314.80,439.63 314.97,399.30 315.14,448.05 315.30,433.23 315.47,440.78 315.64,437.06 315.80,434.45 315.97,430.69 316.13,442.41 316.30,437.42 316.47,429.67 316.63,436.91 316.80,435.26 316.96,446.57 317.13,435.79 317.30,431.32 317.46,430.38 317.63,414.72 317.80,434.40 317.96,436.67 318.13,434.30 318.29,438.44 318.46,431.41 318.63,434.20 318.79,440.16 318.96,434.45 319.13,457.63 319.29,431.96 319.46,429.62 319.62,429.56 319.79,436.25 319.96,437.88 320.12,424.08 320.29,421.17 320.45,432.06 320.62,436.00 320.79,444.65 320.95,441.69 321.12,438.33 321.29,434.69 321.45,433.59 321.62,437.13 321.78,435.57 321.95,440.02 322.12,459.87 322.28,433.02 322.45,431.53 322.61,422.87 322.78,418.46 322.95,441.59 323.11,438.31 323.28,430.86 323.45,439.67 323.61,441.51 323.78,445.56 323.94,438.07 324.11,432.38 324.28,432.58 324.44,429.34 324.61,465.86 324.77,436.73 324.94,435.41 325.11,431.75 325.27,430.58 325.44,441.17 325.61,432.75 325.77,418.46 325.94,435.98 326.10,434.97 326.27,440.55 326.44,444.90 326.60,421.17 326.77,432.76 326.93,432.15 327.10,422.41 327.27,430.80 327.43,433.86 327.60,430.69 327.77,434.49 327.93,434.64 328.10,437.13 328.26,436.91 328.43,424.39 328.60,431.60 328.76,417.71 328.93,435.37 329.10,433.81 329.26,435.35 329.43,435.13 329.59,434.75 329.76,431.93 329.93,430.31 330.09,438.60 330.26,429.97 330.42,442.46 330.59,439.33 330.76,441.88 330.92,432.35 331.09,419.96 331.26,435.24 331.42,431.77 331.59,448.05 331.75,432.02 331.92,434.67 332.09,434.83 332.25,435.94 332.42,432.80 332.58,438.21 332.75,430.81 332.92,437.58" fill="none" stroke="#FF5500" stroke-width="2.0" stroke-linejoin="round"/>
<rect x="233.30" y="398.00" width="99.70" height="74.50" fill="none" stroke="#555" stroke-width="1"/>
<line x1="273.18" y1="472.50" x2="273.18" y2="471.30" stroke="#555" stroke-width="0.8"/>
<line x1="273.18" y1="398.00" x2="273.18" y2="399.20" stroke="#555" stroke-width="0.8"/>
<line x1="313.06" y1="472.50" x2="313.06" y2="471.30" stroke="#555" stroke-width="0.8"/>
<line x1="313.06" y1="398.00" x2="313.06" y2="399.20" stroke="#555" stroke-width="0.8"/>
<line x1="233.30" y1="435.25" x2="234.50" y2="435.25" stroke="#555" stroke-width="0.8"/>
<line x1="333.00" y1="435.25" x2="331.80" y2="435.25" stroke="#555" stroke-width="0.8"/>
<text transform="translate(233.30,489.50) scale(0.86,1)" font-size="15.5" text-anchor="middle" font-family='"Liberation Serif", serif' >0</text>
<text transform="translate(273.18,489.50) scale(0.86,1)" font-size="15.5" text-anchor="middle" font-family='"Liberation Serif", serif' >10</text>
<text transform="translate(313.06,489.50) scale(0.86,1)" font-size="15.5" text-anchor="middle" font-family='"Liberation Serif", serif' >20</text>
<text transform="translate(228.00,401.60) scale(0.86,1)" font-size="15.5" text-anchor="end" font-family='"Liberation Serif", serif' >0.2</text>
<text transform="translate(228.00,438.85) scale(0.86,1)" font-size="15.5" text-anchor="end" font-family='"Liberation Serif", serif' >0</text>
<text transform="translate(228.00,476.10) scale(0.86,1)" font-size="15.5" text-anchor="end" font-family='"Liberation Serif", serif' >-0.2</text>
<g transform="translate(198.80,435.25) rotate(-90)" font-size="14" font-family='"Liberation Serif", serif' font-style="italic"><text x="-7.6" y="0">δ</text><text x="-0.6" y="0">ϕ</text></g>
<clipPath id="cp40"><rect x="70.6" y="522.5" width="99.0" height="75.0"/></clipPath>
<polyline clip-path="url(#cp40)" points="70.68,563.79 70.85,553.32 71.01,565.86 71.18,553.15 71.34,559.04 71.51,541.71 71.67,571.15 71.84,560.68 72.00,545.28 72.17,553.99 72.33,567.45 72.50,563.56 72.66,568.01 72.83,553.47 72.99,559.01 73.16,557.58 73.32,565.12 73.49,559.09 73.65,567.17 73.82,543.21 73.98,577.89 74.15,551.25 74.31,555.68 74.48,559.18 74.64,554.05 74.81,570.61 74.97,561.63 75.14,558.13 75.30,555.38 75.47,568.13 75.63,556.30 75.80,560.42 75.96,552.66 76.13,560.45 76.29,565.09 76.46,565.45 76.62,565.50 76.79,582.38 76.95,555.79 77.12,559.51 77.28,561.35 77.45,537.97 77.61,557.89 77.78,558.46 77.94,563.60 78.11,571.09 78.27,562.26 78.44,556.57 78.60,561.71 78.77,554.91 78.93,560.79 79.10,548.55 79.26,557.30 79.43,558.23 79.59,557.30 79.76,580.13 79.92,558.52 80.09,545.28 80.25,554.77 80.42,559.13 80.58,548.01 80.75,569.08 80.91,548.95 81.08,563.82 81.24,546.95 81.41,561.30 81.57,565.16 81.74,553.30 81.90,580.88 82.07,559.78 82.23,569.54 82.40,558.54 82.56,567.25 82.73,545.16 82.89,556.02 83.06,559.44 83.22,553.80 83.39,555.28 83.55,559.58 83.72,561.43 83.88,568.75 84.05,545.28 84.21,562.54 84.38,559.07 84.54,548.53 84.71,561.67 84.87,566.62 85.04,548.45 85.20,576.39 85.37,560.31 85.53,562.62 85.70,545.28 85.86,560.10 86.03,556.22 86.19,564.24 86.36,564.08 86.52,552.91 86.69,561.88 86.85,555.75 87.02,563.59 87.18,573.40 87.35,557.73 87.51,566.93 87.68,559.64 87.84,564.17 88.01,562.15 88.17,564.42 88.34,534.68 88.50,547.95 88.67,550.40 88.83,567.68 89.00,569.80 89.16,574.72 89.33,563.12 89.49,571.90 89.66,560.76 89.82,564.66 89.99,563.90 90.15,555.69 90.32,560.02 90.48,545.28 90.65,557.72 90.81,567.82 90.98,557.23 91.14,567.80 91.31,566.10 91.47,557.14 91.64,536.77 91.80,563.29 91.97,555.26 92.13,554.81 92.30,552.54 92.46,558.71 92.63,556.71 92.79,558.60 92.96,574.72 93.12,559.99 93.29,559.94 93.45,558.21 93.62,560.51 93.78,565.60 93.95,540.22 94.11,574.89 94.28,569.58 94.44,567.84 94.61,564.63 94.77,563.98 94.94,559.26 95.10,550.74 95.27,556.11 95.43,564.63 95.60,561.50 95.76,537.97 95.93,563.17 96.09,563.04 96.26,565.96 96.42,564.65 96.59,558.61 96.75,558.03 96.92,583.87 97.08,562.40 97.25,567.10 97.41,563.97 97.58,558.35 97.74,545.46 97.91,562.76 98.07,574.59 98.24,562.80 98.40,565.85 98.57,554.29 98.73,553.04 98.90,560.88 99.06,556.60 99.23,574.89 99.39,551.69 99.56,558.11 99.72,566.32 99.89,545.28 100.05,561.50 100.22,562.60 100.38,562.43 100.55,563.05 100.71,553.83 100.88,568.93 101.04,550.55 101.21,554.96 101.37,557.25 101.54,562.22 101.70,545.28 101.87,556.68 102.03,564.31 102.20,563.68 102.36,564.41 102.53,561.20 102.69,558.94 102.86,540.96 103.02,554.41 103.19,559.45 103.35,564.01 103.52,560.25 103.68,581.63 103.85,560.14 104.01,553.45 104.18,555.92 104.34,561.56 104.51,557.96 104.67,561.53 104.84,558.33 105.00,558.26 105.17,562.15 105.33,558.68 105.50,555.66 105.66,570.80 105.83,557.16 105.99,547.02 106.16,556.51 106.32,555.77 106.49,558.63 106.65,543.96 106.82,570.40 106.98,550.19 107.15,564.11 107.31,556.33 107.48,554.42 107.64,551.35 107.81,559.40 107.97,563.66 108.14,560.40 108.30,560.65 108.47,561.39 108.63,564.53 108.80,553.75 108.96,565.07 109.13,554.49 109.29,557.76 109.46,559.33 109.62,545.46 109.79,561.97 109.95,551.03 110.12,563.91 110.28,564.76 110.45,559.47 110.61,563.97 110.78,559.32 110.94,563.40 111.11,570.07 111.27,560.41 111.44,561.92 111.60,553.11 111.77,560.73 111.93,572.03 112.10,555.96 112.26,573.43 112.43,558.80 112.59,572.65 112.76,551.60 112.92,557.22 113.09,552.85 113.25,559.18 113.42,558.45 113.58,561.60 113.75,551.67 113.91,574.72 114.08,561.45 114.24,561.99 114.41,556.71 114.57,560.61 114.74,557.48 114.90,579.38 115.07,561.18 115.23,565.63 115.40,561.25 115.56,564.05 115.73,546.20 115.89,545.28 116.06,561.22 116.22,559.36 116.39,557.51 116.55,560.43 116.72,545.28 116.88,560.04 117.05,552.90 117.21,589.86 117.38,559.12 117.54,555.09 117.71,550.33 117.87,562.47 118.04,558.37 118.20,571.30 118.37,560.88 118.53,560.83 118.70,555.02 118.86,553.21 119.03,559.23 119.19,560.88 119.36,529.74 119.52,568.90 119.69,564.76 119.85,558.14 120.02,555.03 120.18,568.89 120.35,558.61 120.51,564.75 120.68,569.05 120.84,557.28 121.01,558.02 121.17,549.85 121.34,556.46 121.50,560.38 121.67,546.20 121.83,583.87 122.00,545.28 122.16,555.18 122.33,555.08 122.49,546.56 122.66,559.51 122.82,552.84 122.99,561.51 123.15,552.78 123.32,564.35 123.48,550.36 123.65,567.15 123.81,552.93 123.98,556.50 124.14,538.72 124.31,562.30 124.47,558.74 124.64,559.52 124.80,561.18 124.97,569.14 125.13,557.25 125.30,574.72 125.46,545.28 125.63,557.92 125.79,554.48 125.96,555.14 126.12,564.41 126.29,563.23 126.45,564.12 126.62,548.45 126.78,560.11 126.95,571.90 127.11,557.80 127.28,562.23 127.44,556.52 127.61,574.72 127.77,559.40 127.94,564.51 128.10,561.38 128.27,549.94 128.43,565.45 128.60,546.58 128.76,571.01 128.93,548.74 129.09,546.20 129.26,562.24 129.42,567.08 129.59,555.25 129.75,559.82 129.92,567.41 130.08,559.47 130.25,560.70 130.41,559.82 130.58,548.84 130.74,566.38 130.91,561.63 131.07,556.24 131.24,565.08 131.40,559.56 131.57,557.32 131.73,558.55 131.90,555.86 132.06,555.06 132.23,558.64 132.39,561.83 132.56,542.46 132.72,562.69 132.89,583.13 133.05,568.23 133.22,551.61 133.38,556.52 133.55,563.15 133.71,564.96 133.88,565.12 134.04,564.88 134.21,569.27 134.37,562.23 134.54,562.17 134.70,559.29 134.87,559.84 135.03,560.93 135.20,545.28 135.36,559.66 135.53,563.53 135.69,558.19 135.86,551.44 136.02,579.38 136.19,554.76 136.35,556.05 136.52,558.61 136.68,558.95 136.85,547.83 137.01,559.43 137.18,555.28 137.34,556.36 137.51,555.59 137.67,562.80 137.84,557.75 138.00,549.47 138.17,555.10 138.33,558.95 138.50,561.09 138.66,555.91 138.83,587.62 138.99,562.98 139.16,560.16 139.32,558.05 139.49,573.50 139.65,546.20 139.82,556.16 139.98,547.84 140.15,562.63 140.31,567.88 140.48,572.48 140.64,555.54 140.81,557.12 140.97,557.49 141.14,558.00 141.30,558.51 141.47,558.02 141.63,561.09 141.80,534.98 141.96,574.89 142.13,562.77 142.29,556.75 142.46,557.52 142.62,560.11 142.79,563.42 142.95,559.88 143.12,570.56 143.28,561.89 143.45,553.55 143.61,559.76 143.78,552.57 143.94,557.80 144.11,565.69 144.27,554.67 144.44,552.81 144.60,554.03 144.77,561.70 144.93,529.74 145.10,554.46 145.26,571.23 145.43,562.11 145.59,573.40 145.76,562.15 145.92,556.29 146.09,563.22 146.25,563.29 146.42,561.77 146.58,566.19 146.75,562.80 146.91,558.79 147.08,545.28 147.24,558.02 147.41,561.03 147.57,553.70 147.74,551.83 147.90,554.44 148.07,561.38 148.23,566.03 148.40,572.20 148.56,571.90 148.73,557.41 148.89,559.59 149.06,553.01 149.22,567.40 149.39,562.11 149.55,559.06 149.72,558.38 149.88,561.94 150.05,556.70 150.21,558.28 150.38,562.35 150.54,566.05 150.71,562.06 150.87,546.95 151.04,561.67 151.20,558.15 151.37,561.71 151.53,578.63 151.70,568.03 151.86,563.84 152.03,557.37 152.19,552.76 152.36,561.84 152.52,564.00 152.69,553.90 152.85,562.11 153.02,556.98 153.18,557.40 153.35,562.07 153.51,554.85 153.68,562.28 153.84,545.46 154.01,561.75 154.17,558.83 154.34,552.68 154.50,580.88 154.67,562.86 154.83,556.72 155.00,559.67 155.16,561.37 155.33,563.03 155.49,569.94 155.66,553.38 155.82,556.32 155.99,553.52 156.15,540.22 156.32,550.14 156.48,555.06 156.65,557.42 156.81,561.99 156.98,557.73 157.14,567.92 157.31,571.38 157.47,553.62 157.64,576.39 157.80,567.54 157.97,557.56 158.13,561.04 158.30,559.01 158.46,557.37 158.63,555.98 158.79,568.30 158.96,558.02 159.12,562.54 159.29,560.40 159.45,565.64 159.62,549.52 159.78,552.94 159.95,565.91 160.11,552.66 160.28,554.22 160.44,557.54 160.61,554.95 160.77,558.62 160.94,556.47 161.10,557.30 161.27,551.53 161.43,563.60 161.60,558.99 161.76,559.44 161.93,562.37 162.09,545.28 162.26,562.37 162.42,554.15 162.59,560.93 162.75,546.95 162.92,561.87 163.08,553.82 163.25,563.94 163.41,561.67 163.58,583.13 163.74,550.36 163.91,559.82 164.07,561.34 164.24,557.50 164.40,558.67 164.57,558.00 164.73,559.97 164.90,560.46 165.06,574.72 165.23,557.24 165.39,556.36 165.56,558.23 165.72,568.55 165.89,551.44 166.05,554.36 166.22,552.35 166.38,561.47 166.55,562.59 166.71,563.85 166.88,562.26 167.04,558.01 167.21,562.76 167.37,567.95 167.54,570.85 167.70,567.96 167.87,545.28 168.03,557.92 168.20,553.47 168.36,554.81 168.53,555.62 168.69,563.05 168.86,579.38 169.02,560.50 169.19,563.52 169.35,555.29 169.52,567.67" fill="none" stroke="#AE0000" stroke-width="2.0" stroke-linejoin="round"/>
<rect x="70.60" y="522.50" width="99.00" height="75.00" fill="none" stroke="#555" stroke-width="1"/>
<line x1="110.20" y1="597.50" x2="110.20" y2="596.30" stroke="#555" stroke-width="0.8"/>
<line x1="110.20" y1="522.50" x2="110.20" y2="523.70" stroke="#555" stroke-width="0.8"/>
<line x1="149.80" y1="597.50" x2="149.80" y2="596.30" stroke="#555" stroke-width="0.8"/>
<line x1="149.80" y1="522.50" x2="149.80" y2="523.70" stroke="#555" stroke-width="0.8"/>
<line x1="70.60" y1="560.00" x2="71.80" y2="560.00" stroke="#555" stroke-width="0.8"/>
<line x1="169.60" y1="560.00" x2="168.40" y2="560.00" stroke="#555" stroke-width="0.8"/>
<text transform="translate(70.60,614.50) scale(0.86,1)" font-size="15.5" text-anchor="middle" font-family='"Liberation Serif", serif' >0</text>
<text transform="translate(110.20,614.50) scale(0.86,1)" font-size="15.5" text-anchor="middle" font-family='"Liberation Serif", serif' >10</text>
<text transform="translate(149.80,614.50) scale(0.86,1)" font-size="15.5" text-anchor="middle" font-family='"Liberation Serif", serif' >20</text>
<text transform="translate(65.30,526.10) scale(0.86,1)" font-size="15.5" text-anchor="end" font-family='"Liberation Serif", serif' >0.2</text>
<text transform="translate(65.30,563.60) scale(0.86,1)" font-size="15.5" text-anchor="end" font-family='"Liberation Serif", serif' >0</text>
<text transform="translate(65.30,601.10) scale(0.86,1)" font-size="15.5" text-anchor="end" font-family='"Liberation Serif", serif' >-0.2</text>
<g transform="translate(36.10,560.00) rotate(-90)" font-size="14" font-family='"Liberation Serif", serif' font-style="italic"><text x="-7.6" y="0">δ</text><text x="-0.6" y="0">ϕ</text></g>
<clipPath id="cp41"><rect x="233.3" y="522.5" width="99.69999999999999" height="75.0"/></clipPath>
<polyline clip-path="url(#cp41)" points="233.38,562.20 233.55,555.39 233.72,571.59 233.88,560.29 234.05,561.03 234.21,580.16 234.38,568.18 234.55,570.40 234.71,552.39 234.88,566.09 235.04,566.47 235.21,560.49 235.38,565.19 235.54,541.42 235.71,564.66 235.88,569.85 236.04,557.96 236.21,541.63 236.37,569.73 236.54,562.16 236.71,534.98 236.87,591.36 237.04,576.05 237.20,568.12 237.37,563.02 237.54,569.75 237.70,559.23 237.87,549.79 238.04,562.69 238.20,574.74 238.37,560.25 238.53,556.53 238.70,567.20 238.87,563.62 239.03,570.34 239.20,545.00 239.37,573.84 239.53,571.41 239.70,528.99 239.86,585.37 240.03,551.02 240.20,558.65 240.36,566.15 240.53,563.07 240.69,564.72 240.86,565.49 241.03,552.52 241.19,568.46 241.36,561.18 241.53,572.68 241.69,562.39 241.86,546.34 242.02,569.74 242.19,556.68 242.36,562.87 242.52,559.31 242.69,532.73 242.85,580.88 243.02,580.16 243.19,547.98 243.35,570.60 243.52,540.02 243.69,570.75 243.85,564.45 244.02,556.22 244.18,561.42 244.35,552.08 244.52,561.83 244.68,580.16 244.85,550.69 245.01,579.38 245.18,541.27 245.35,548.94 245.51,560.82 245.68,572.24 245.85,553.00 246.01,558.43 246.18,560.45 246.34,565.75 246.51,577.05 246.68,562.92 246.84,564.17 247.01,567.41 247.17,534.23 247.34,560.73 247.51,571.10 247.67,555.64 247.84,563.12 248.01,576.39 248.17,554.38 248.34,546.10 248.50,566.73 248.67,565.45 248.84,560.86 249.00,570.67 249.17,550.42 249.34,568.37 249.50,539.47 249.67,565.68 249.83,556.92 250.00,568.10 250.17,551.15 250.33,563.01 250.50,555.54 250.66,554.82 250.83,567.44 251.00,580.88 251.16,555.80 251.33,557.05 251.50,557.25 251.66,555.36 251.83,572.73 251.99,559.11 252.16,562.34 252.33,563.54 252.49,551.23 252.66,554.62 252.82,565.98 252.99,559.60 253.16,545.46 253.32,558.08 253.49,541.16 253.66,559.34 253.82,553.50 253.99,574.89 254.15,540.25 254.32,555.29 254.49,557.28 254.65,557.70 254.82,561.27 254.98,549.05 255.15,557.23 255.32,552.83 255.48,561.60 255.65,561.17 255.82,555.26 255.98,565.10 256.15,565.39 256.31,567.45 256.48,559.83 256.65,561.69 256.81,561.54 256.98,540.22 257.14,568.90 257.31,575.25 257.48,559.41 257.64,555.89 257.81,557.17 257.98,565.60 258.14,566.60 258.31,560.28 258.47,569.03 258.64,562.00 258.81,567.51 258.97,561.19 259.14,554.85 259.31,559.03 259.47,565.86 259.64,557.37 259.80,546.16 259.97,557.42 260.14,563.53 260.30,578.19 260.47,559.21 260.63,537.22 260.80,544.76 260.97,561.24 261.13,557.58 261.30,554.14 261.47,551.62 261.63,556.51 261.80,555.44 261.96,550.24 262.13,554.78 262.30,545.67 262.46,573.30 262.63,552.10 262.79,565.01 262.96,559.20 263.13,572.87 263.29,554.22 263.46,547.82 263.63,574.89 263.79,550.65 263.96,560.42 264.12,563.77 264.29,560.02 264.46,555.77 264.62,554.36 264.79,559.78 264.95,564.55 265.12,543.21 265.29,557.89 265.45,559.68 265.62,558.85 265.79,555.57 265.95,563.90 266.12,558.19 266.28,554.35 266.45,562.63 266.62,575.72 266.78,547.18 266.95,557.52 267.11,557.25 267.28,554.09 267.45,563.03 267.61,566.24 267.78,552.13 267.95,571.13 268.11,548.45 268.28,577.89 268.44,564.30 268.61,560.42 268.78,545.28 268.94,556.85 269.11,563.98 269.28,552.91 269.44,562.08 269.61,545.88 269.77,576.35 269.94,544.11 270.11,558.31 270.27,551.74 270.44,548.93 270.60,578.26 270.77,570.49 270.94,561.24 271.10,573.40 271.27,562.47 271.44,578.08 271.60,524.50 271.77,564.58 271.93,573.03 272.10,549.63 272.27,557.22 272.43,559.95 272.60,567.80 272.76,552.43 272.93,547.64 273.10,564.02 273.26,557.28 273.43,544.29 273.60,549.04 273.76,541.26 273.93,559.48 274.09,537.22 274.26,579.38 274.43,545.24 274.59,570.17 274.76,559.02 274.92,560.59 275.09,561.97 275.26,556.85 275.42,553.27 275.59,580.16 275.76,575.79 275.92,554.07 276.09,552.05 276.25,557.22 276.42,554.32 276.59,560.75 276.75,557.05 276.92,558.63 277.08,536.17 277.25,559.79 277.42,548.39 277.58,561.30 277.75,564.26 277.92,571.90 278.08,560.06 278.25,547.09 278.41,560.30 278.58,565.52 278.75,563.17 278.91,556.57 279.08,560.63 279.25,567.32 279.41,570.14 279.58,558.57 279.74,528.99 279.91,556.47 280.08,565.37 280.24,561.04 280.41,565.71 280.57,561.33 280.74,557.56 280.91,563.86 281.07,547.87 281.24,556.70 281.41,569.26 281.57,558.30 281.74,555.36 281.90,552.82 282.07,566.56 282.24,558.50 282.40,538.72 282.57,577.89 282.73,563.58 282.90,561.86 283.07,544.66 283.23,556.19 283.40,544.88 283.57,550.26 283.73,563.83 283.90,558.91 284.06,537.82 284.23,559.64 284.40,560.91 284.56,567.90 284.73,536.47 284.89,545.93 285.06,566.62 285.23,561.77 285.39,565.24 285.56,557.95 285.73,560.91 285.89,558.31 286.06,580.16 286.22,573.40 286.39,573.32 286.56,561.78 286.72,561.27 286.89,560.91 287.05,563.86 287.22,555.45 287.39,577.20 287.55,564.11 287.72,544.96 287.89,554.91 288.05,561.60 288.22,562.73 288.38,537.22 288.55,567.72 288.72,557.82 288.88,548.73 289.05,560.35 289.22,544.21 289.38,560.90 289.55,572.22 289.71,573.09 289.88,574.89 290.05,564.59 290.21,539.14 290.38,557.54 290.54,568.90 290.71,562.88 290.88,553.54 291.04,553.74 291.21,539.79 291.38,580.16 291.54,549.50 291.71,555.83 291.87,549.01 292.04,547.98 292.21,526.74 292.37,551.56 292.54,537.82 292.70,552.30 292.87,562.79 293.04,564.10 293.20,566.61 293.37,571.55 293.54,558.60 293.70,568.55 293.87,570.27 294.03,561.31 294.20,562.36 294.37,542.46 294.53,580.88 294.70,558.85 294.86,555.54 295.03,552.92 295.20,559.12 295.36,567.33 295.53,563.09 295.70,574.68 295.86,555.46 296.03,565.15 296.19,571.91 296.36,567.55 296.53,560.94 296.69,543.81 296.86,565.96 297.02,580.16 297.19,560.27 297.36,530.19 297.52,592.86 297.69,561.72 297.86,555.99 298.02,554.80 298.19,557.65 298.35,571.20 298.52,564.19 298.69,573.03 298.85,554.01 299.02,555.23 299.19,563.04 299.35,546.75 299.52,553.35 299.68,569.88 299.85,547.96 300.02,557.71 300.18,546.77 300.35,542.16 300.51,586.87 300.68,567.29 300.85,560.35 301.01,561.94 301.18,561.27 301.35,548.94 301.51,574.40 301.68,572.09 301.84,554.24 302.01,580.16 302.18,556.60 302.34,557.59 302.51,552.65 302.67,594.35 302.84,554.74 303.01,559.68 303.17,554.86 303.34,545.16 303.51,567.02 303.67,556.69 303.84,551.70 304.00,565.68 304.17,575.24 304.34,559.42 304.50,555.32 304.67,574.41 304.83,583.87 305.00,557.27 305.17,551.69 305.33,559.64 305.50,546.22 305.67,554.68 305.83,555.63 306.00,530.49 306.16,561.57 306.33,537.82 306.50,567.14 306.66,560.69 306.83,559.05 306.99,562.87 307.16,538.13 307.33,565.28 307.49,558.40 307.66,556.88 307.83,551.44 307.99,579.38 308.16,578.26 308.32,570.84 308.49,548.83 308.66,564.64 308.82,544.09 308.99,563.10 309.16,553.43 309.32,570.21 309.49,545.20 309.65,580.16 309.82,580.16 309.99,564.31 310.15,557.82 310.32,566.51 310.48,578.13 310.65,546.44 310.82,582.38 310.98,562.57 311.15,555.00 311.32,553.98 311.48,551.22 311.65,528.99 311.81,561.04 311.98,564.22 312.15,566.15 312.31,562.61 312.48,557.89 312.64,563.53 312.81,558.03 312.98,564.93 313.14,562.26 313.31,563.72 313.48,567.31 313.64,553.67 313.81,530.49 313.97,562.95 314.14,563.92 314.31,537.82 314.47,577.81 314.64,583.87 314.80,562.44 314.97,569.08 315.14,557.09 315.30,545.09 315.47,564.65 315.64,558.19 315.80,559.06 315.97,558.56 316.13,524.20 316.30,551.07 316.47,556.89 316.63,563.80 316.80,555.67 316.96,561.06 317.13,560.93 317.30,565.70 317.46,559.94 317.63,565.12 317.80,556.68 317.96,562.47 318.13,567.65 318.29,557.68 318.46,566.54 318.63,536.17 318.79,577.89 318.96,558.39 319.13,561.03 319.29,572.24 319.46,552.95 319.62,562.45 319.79,549.52 319.96,570.23 320.12,550.06 320.29,555.82 320.45,556.64 320.62,561.49 320.79,566.95 320.95,561.58 321.12,565.09 321.29,542.46 321.45,565.58 321.62,574.54 321.78,558.35 321.95,561.92 322.12,557.75 322.28,558.59 322.45,565.12 322.61,556.13 322.78,574.89 322.95,539.69 323.11,560.53 323.28,576.61 323.45,564.03 323.61,547.52 323.78,558.52 323.94,561.92 324.11,552.69 324.28,553.73 324.44,562.28 324.61,564.96 324.77,556.51 324.94,580.16 325.11,536.47 325.27,561.58 325.44,570.24 325.61,566.42 325.77,559.43 325.94,546.75 326.10,560.67 326.27,556.09 326.44,562.92 326.60,575.25 326.77,554.40 326.93,569.92 327.10,557.61 327.27,585.37 327.43,554.45 327.60,525.99 327.77,563.82 327.93,570.74 328.10,573.04 328.26,547.03 328.43,566.04 328.60,555.61 328.76,551.01 328.93,565.83 329.10,562.21 329.26,551.50 329.43,568.76 329.59,562.36 329.76,550.96 329.93,559.01 330.09,560.84 330.26,545.46 330.42,573.40 330.59,557.70 330.76,560.57 330.92,567.53 331.09,572.97 331.26,553.30 331.42,567.91 331.59,567.65 331.75,557.84 331.92,565.70 332.09,564.21 332.25,560.23 332.42,576.09 332.58,552.26 332.75,563.93 332.92,558.62" fill="none" stroke="#AE0000" stroke-width="2.0" stroke-linejoin="round"/>
<rect x="233.30" y="522.50" width="99.70" height="75.00" fill="none" stroke="#555" stroke-width="1"/>
<line x1="273.18" y1="597.50" x2="273.18" y2="596.30" stroke="#555" stroke-width="0.8"/>
<line x1="273.18" y1="522.50" x2="273.18" y2="523.70" stroke="#555" stroke-width="0.8"/>
<line x1="313.06" y1="597.50" x2="313.06" y2="596.30" stroke="#555" stroke-width="0.8"/>
<line x1="313.06" y1="522.50" x2="313.06" y2="523.70" stroke="#555" stroke-width="0.8"/>
<line x1="233.30" y1="560.00" x2="234.50" y2="560.00" stroke="#555" stroke-width="0.8"/>
<line x1="333.00" y1="560.00" x2="331.80" y2="560.00" stroke="#555" stroke-width="0.8"/>
<text transform="translate(233.30,614.50) scale(0.86,1)" font-size="15.5" text-anchor="middle" font-family='"Liberation Serif", serif' >0</text>
<text transform="translate(273.18,614.50) scale(0.86,1)" font-size="15.5" text-anchor="middle" font-family='"Liberation Serif", serif' >10</text>
<text transform="translate(313.06,614.50) scale(0.86,1)" font-size="15.5" text-anchor="middle" font-family='"Liberation Serif", serif' >20</text>
<text transform="translate(228.00,526.10) scale(0.86,1)" font-size="15.5" text-anchor="end" font-family='"Liberation Serif", serif' >0.2</text>
<text transform="translate(228.00,563.60) scale(0.86,1)" font-size="15.5" text-anchor="end" font-family='"Liberation Serif", serif' >0</text>
<text transform="translate(228.00,601.10) scale(0.86,1)" font-size="15.5" text-anchor="end" font-family='"Liberation Serif", serif' >-0.2</text>
<g transform="translate(198.80,560.00) rotate(-90)" font-size="14" font-family='"Liberation Serif", serif' font-style="italic"><text x="-7.6" y="0">δ</text><text x="-0.6" y="0">ϕ</text></g>
<rect x="396.40" y="24.50" width="99.10" height="74.50" fill="none" stroke="#555" stroke-width="1"/>
<clipPath id="cq02"><rect x="396.4" y="24.5" width="99.10000000000002" height="74.5"/></clipPath>
<polyline clip-path="url(#cq02)" points="418.46,99.50 442.56,60.98 464.86,99.50" fill="none" stroke="#00AAFF" stroke-width="0.85"/>
<g fill="#00AAFF"><circle cx="407.08" cy="98.45" r="4.2"/><circle cx="412.02" cy="98.45" r="4.2"/><circle cx="423.25" cy="85.43" r="4.2"/><circle cx="426.99" cy="83.18" r="4.2"/><circle cx="429.98" cy="74.95" r="4.2"/><circle cx="432.98" cy="72.70" r="4.2"/><circle cx="434.92" cy="64.47" r="4.2"/><circle cx="436.72" cy="60.73" r="4.2"/><circle cx="440.46" cy="54.74" r="4.2"/><circle cx="441.96" cy="58.03" r="4.2"/><circle cx="444.20" cy="52.49" r="4.2"/><circle cx="447.20" cy="53.99" r="4.2"/><circle cx="448.70" cy="59.23" r="4.2"/><circle cx="452.44" cy="64.47" r="4.2"/><circle cx="456.18" cy="65.22" r="4.2"/><circle cx="457.68" cy="68.96" r="4.2"/><circle cx="461.42" cy="70.46" r="4.2"/><circle cx="462.92" cy="74.20" r="4.2"/><circle cx="466.66" cy="74.20" r="4.2"/><circle cx="469.65" cy="75.70" r="4.2"/><circle cx="473.40" cy="76.45" r="4.2"/><circle cx="477.14" cy="77.94" r="4.2"/><circle cx="480.13" cy="80.94" r="4.2"/><circle cx="484.62" cy="86.18" r="4.2"/><circle cx="486.12" cy="84.68" r="4.2"/><circle cx="490.61" cy="82.43" r="4.2"/></g>
<line x1="445.95" y1="99.00" x2="445.95" y2="97.80" stroke="#555" stroke-width="0.8"/>
<line x1="445.95" y1="24.50" x2="445.95" y2="25.70" stroke="#555" stroke-width="0.8"/>
<line x1="396.40" y1="74.17" x2="397.60" y2="74.17" stroke="#555" stroke-width="0.8"/>
<line x1="495.50" y1="74.17" x2="494.30" y2="74.17" stroke="#555" stroke-width="0.8"/>
<text transform="translate(396.40,116.00) scale(0.86,1)" font-size="15.5" text-anchor="middle" font-family='"Liberation Serif", serif' >-5</text>
<text transform="translate(445.95,116.00) scale(0.86,1)" font-size="15.5" text-anchor="middle" font-family='"Liberation Serif", serif' >0</text>
<text transform="translate(495.50,116.00) scale(0.86,1)" font-size="15.5" text-anchor="middle" font-family='"Liberation Serif", serif' >5</text>
<text transform="translate(482.50,132.70) scale(0.86,1)" font-size="15.5" text-anchor="end" font-family='"Liberation Serif", serif' >×10</text>
<text x="482.80" y="127.50" font-size="10.5" text-anchor="start" font-family='"Liberation Serif", serif' >−4</text>
<text transform="translate(385.40,28.30) scale(0.86,1)" font-size="15.5" text-anchor="end" font-family='"Liberation Serif", serif' >10</text>
<text transform="translate(386.20,22.70) scale(0.85,1)" font-size="10.5" text-anchor="start" font-family='"Liberation Serif", serif' >0</text>
<text transform="translate(379.00,77.97) scale(0.86,1)" font-size="15.5" text-anchor="end" font-family='"Liberation Serif", serif' >10</text>
<text x="379.50" y="73.67" font-size="10.5" text-anchor="start" font-family='"Liberation Serif", serif' >−2</text>
<text transform="translate(357.10,62.35) rotate(-90)" font-size="15.5" text-anchor="middle" font-family='"Liberation Serif", serif'>pdf (<tspan font-style="italic">δϕ</tspan>)</text>
<rect x="558.50" y="24.50" width="99.00" height="74.50" fill="none" stroke="#555" stroke-width="1"/>
<clipPath id="cq03"><rect x="558.5" y="24.5" width="99.0" height="74.5"/></clipPath>
<polyline clip-path="url(#cq03)" points="578.21,99.50 605.90,55.44 632.85,99.50" fill="none" stroke="#00AAFF" stroke-width="0.85"/>
<g fill="#00AAFF"><circle cx="605.76" cy="56.54" r="4.2"/><circle cx="603.21" cy="58.48" r="4.2"/><circle cx="585.25" cy="89.17" r="4.2"/><circle cx="588.99" cy="77.20" r="4.2"/><circle cx="591.53" cy="71.96" r="4.2"/><circle cx="593.48" cy="68.96" r="4.2"/><circle cx="595.73" cy="65.97" r="4.2"/><circle cx="597.52" cy="62.23" r="4.2"/><circle cx="599.47" cy="59.53" r="4.2"/><circle cx="601.71" cy="56.99" r="4.2"/><circle cx="603.96" cy="53.99" r="4.2"/><circle cx="606.20" cy="51.75" r="4.2"/><circle cx="608.45" cy="50.25" r="4.2"/><circle cx="609.95" cy="53.99" r="4.2"/><circle cx="611.44" cy="57.73" r="4.2"/><circle cx="613.69" cy="61.48" r="4.2"/><circle cx="615.93" cy="63.72" r="4.2"/><circle cx="618.93" cy="65.97" r="4.2"/><circle cx="619.68" cy="73.45" r="4.2"/><circle cx="621.92" cy="70.46" r="4.2"/><circle cx="624.92" cy="70.46" r="4.2"/><circle cx="627.91" cy="72.70" r="4.2"/><circle cx="630.90" cy="77.20" r="4.2"/><circle cx="635.40" cy="89.17" r="4.2"/><circle cx="639.89" cy="83.93" r="4.2"/><circle cx="645.13" cy="79.44" r="4.2"/><circle cx="650.37" cy="93.66" r="4.2"/><circle cx="654.86" cy="93.66" r="4.2"/></g>
<line x1="608.00" y1="99.00" x2="608.00" y2="97.80" stroke="#555" stroke-width="0.8"/>
<line x1="608.00" y1="24.50" x2="608.00" y2="25.70" stroke="#555" stroke-width="0.8"/>
<line x1="558.50" y1="74.17" x2="559.70" y2="74.17" stroke="#555" stroke-width="0.8"/>
<line x1="657.50" y1="74.17" x2="656.30" y2="74.17" stroke="#555" stroke-width="0.8"/>
<text transform="translate(558.50,116.00) scale(0.86,1)" font-size="15.5" text-anchor="middle" font-family='"Liberation Serif", serif' >-1</text>
<text transform="translate(608.00,116.00) scale(0.86,1)" font-size="15.5" text-anchor="middle" font-family='"Liberation Serif", serif' >0</text>
<text transform="translate(657.50,116.00) scale(0.86,1)" font-size="15.5" text-anchor="middle" font-family='"Liberation Serif", serif' >1</text>
<text transform="translate(644.50,132.70) scale(0.86,1)" font-size="15.5" text-anchor="end" font-family='"Liberation Serif", serif' >×10</text>
<text x="644.80" y="127.50" font-size="10.5" text-anchor="start" font-family='"Liberation Serif", serif' >−3</text>
<text transform="translate(547.50,28.30) scale(0.86,1)" font-size="15.5" text-anchor="end" font-family='"Liberation Serif", serif' >10</text>
<text transform="translate(548.30,22.70) scale(0.85,1)" font-size="10.5" text-anchor="start" font-family='"Liberation Serif", serif' >0</text>
<text transform="translate(541.10,77.97) scale(0.86,1)" font-size="15.5" text-anchor="end" font-family='"Liberation Serif", serif' >10</text>
<text x="541.60" y="73.67" font-size="10.5" text-anchor="start" font-family='"Liberation Serif", serif' >−2</text>
<text transform="translate(519.20,62.35) rotate(-90)" font-size="15.5" text-anchor="middle" font-family='"Liberation Serif", serif'>pdf (<tspan font-style="italic">δϕ</tspan>)</text>
<rect x="396.40" y="148.50" width="99.10" height="75.00" fill="none" stroke="#555" stroke-width="1"/>
<clipPath id="cq12"><rect x="396.4" y="148.5" width="99.10000000000002" height="75.0"/></clipPath>
<polyline clip-path="url(#cq12)" points="423.69,224.00 442.71,183.93 461.87,224.00" fill="none" stroke="#55FFAA" stroke-width="0.85"/>
<g fill="#55FFAA"><circle cx="418.76" cy="218.41" r="4.2"/><circle cx="423.25" cy="217.66" r="4.2"/><circle cx="426.24" cy="213.17" r="4.2"/><circle cx="429.23" cy="207.18" r="4.2"/><circle cx="431.48" cy="198.20" r="4.2"/><circle cx="433.73" cy="193.71" r="4.2"/><circle cx="435.97" cy="188.47" r="4.2"/><circle cx="437.47" cy="185.48" r="4.2"/><circle cx="439.71" cy="180.99" r="4.2"/><circle cx="441.96" cy="177.24" r="4.2"/><circle cx="444.20" cy="173.50" r="4.2"/><circle cx="446.45" cy="174.25" r="4.2"/><circle cx="447.95" cy="179.49" r="4.2"/><circle cx="450.19" cy="184.73" r="4.2"/><circle cx="453.19" cy="187.72" r="4.2"/><circle cx="455.43" cy="192.96" r="4.2"/><circle cx="457.68" cy="194.46" r="4.2"/><circle cx="460.67" cy="196.70" r="4.2"/><circle cx="462.92" cy="200.45" r="4.2"/><circle cx="465.91" cy="202.69" r="4.2"/><circle cx="469.65" cy="204.94" r="4.2"/><circle cx="473.40" cy="210.93" r="4.2"/><circle cx="477.14" cy="209.43" r="4.2"/><circle cx="482.38" cy="215.42" r="4.2"/><circle cx="487.62" cy="207.93" r="4.2"/><circle cx="492.86" cy="218.41" r="4.2"/></g>
<line x1="445.95" y1="223.50" x2="445.95" y2="222.30" stroke="#555" stroke-width="0.8"/>
<line x1="445.95" y1="148.50" x2="445.95" y2="149.70" stroke="#555" stroke-width="0.8"/>
<line x1="396.40" y1="198.50" x2="397.60" y2="198.50" stroke="#555" stroke-width="0.8"/>
<line x1="495.50" y1="198.50" x2="494.30" y2="198.50" stroke="#555" stroke-width="0.8"/>
<text transform="translate(396.40,240.50) scale(0.86,1)" font-size="15.5" text-anchor="middle" font-family='"Liberation Serif", serif' >-1</text>
<text transform="translate(445.95,240.50) scale(0.86,1)" font-size="15.5" text-anchor="middle" font-family='"Liberation Serif", serif' >0</text>
<text transform="translate(495.50,240.50) scale(0.86,1)" font-size="15.5" text-anchor="middle" font-family='"Liberation Serif", serif' >1</text>
<text transform="translate(482.50,257.20) scale(0.86,1)" font-size="15.5" text-anchor="end" font-family='"Liberation Serif", serif' >×10</text>
<text x="482.80" y="252.00" font-size="10.5" text-anchor="start" font-family='"Liberation Serif", serif' >−3</text>
<text transform="translate(385.40,152.30) scale(0.86,1)" font-size="15.5" text-anchor="end" font-family='"Liberation Serif", serif' >10</text>
<text transform="translate(386.20,146.70) scale(0.85,1)" font-size="10.5" text-anchor="start" font-family='"Liberation Serif", serif' >0</text>
<text transform="translate(379.00,202.30) scale(0.86,1)" font-size="15.5" text-anchor="end" font-family='"Liberation Serif", serif' >10</text>
<text x="379.50" y="198.00" font-size="10.5" text-anchor="start" font-family='"Liberation Serif", serif' >−2</text>
<text transform="translate(357.10,186.60) rotate(-90)" font-size="15.5" text-anchor="middle" font-family='"Liberation Serif", serif'>pdf (<tspan font-style="italic">δϕ</tspan>)</text>
<rect x="558.50" y="148.50" width="99.00" height="75.00" fill="none" stroke="#555" stroke-width="1"/>
<clipPath id="cq13"><rect x="558.5" y="148.5" width="99.0" height="75.0"/></clipPath>
<polyline clip-path="url(#cq13)" points="601.41,224.00 607.40,180.93 613.99,224.00" fill="none" stroke="#55FFAA" stroke-width="0.85"/>
<g fill="#55FFAA"><circle cx="580.01" cy="222.15" r="4.2"/><circle cx="588.24" cy="222.15" r="4.2"/><circle cx="595.43" cy="214.82" r="4.2"/><circle cx="600.37" cy="214.82" r="4.2"/><circle cx="600.96" cy="207.18" r="4.2"/><circle cx="601.71" cy="196.70" r="4.2"/><circle cx="603.21" cy="192.21" r="4.2"/><circle cx="603.96" cy="186.97" r="4.2"/><circle cx="604.71" cy="182.48" r="4.2"/><circle cx="606.20" cy="177.99" r="4.2"/><circle cx="607.70" cy="175.00" r="4.2"/><circle cx="609.20" cy="180.24" r="4.2"/><circle cx="609.95" cy="185.48" r="4.2"/><circle cx="611.44" cy="190.72" r="4.2"/><circle cx="613.69" cy="196.70" r="4.2"/><circle cx="616.68" cy="197.45" r="4.2"/><circle cx="617.43" cy="202.69" r="4.2"/><circle cx="618.93" cy="207.18" r="4.2"/><circle cx="622.67" cy="202.69" r="4.2"/><circle cx="624.17" cy="214.67" r="4.2"/><circle cx="627.16" cy="210.18" r="4.2"/><circle cx="630.90" cy="210.93" r="4.2"/><circle cx="633.15" cy="215.42" r="4.2"/><circle cx="618.18" cy="222.15" r="4.2"/><circle cx="636.14" cy="222.15" r="4.2"/><circle cx="644.38" cy="222.15" r="4.2"/><circle cx="648.87" cy="214.67" r="4.2"/><circle cx="652.61" cy="222.15" r="4.2"/><circle cx="597.52" cy="222.45" r="4.2"/></g>
<line x1="608.00" y1="223.50" x2="608.00" y2="222.30" stroke="#555" stroke-width="0.8"/>
<line x1="608.00" y1="148.50" x2="608.00" y2="149.70" stroke="#555" stroke-width="0.8"/>
<line x1="558.50" y1="198.50" x2="559.70" y2="198.50" stroke="#555" stroke-width="0.8"/>
<line x1="657.50" y1="198.50" x2="656.30" y2="198.50" stroke="#555" stroke-width="0.8"/>
<text transform="translate(558.50,240.50) scale(0.86,1)" font-size="15.5" text-anchor="middle" font-family='"Liberation Serif", serif' >-5</text>
<text transform="translate(608.00,240.50) scale(0.86,1)" font-size="15.5" text-anchor="middle" font-family='"Liberation Serif", serif' >0</text>
<text transform="translate(657.50,240.50) scale(0.86,1)" font-size="15.5" text-anchor="middle" font-family='"Liberation Serif", serif' >5</text>
<text transform="translate(644.50,257.20) scale(0.86,1)" font-size="15.5" text-anchor="end" font-family='"Liberation Serif", serif' >×10</text>
<text x="644.80" y="252.00" font-size="10.5" text-anchor="start" font-family='"Liberation Serif", serif' >−3</text>
<text transform="translate(547.50,152.30) scale(0.86,1)" font-size="15.5" text-anchor="end" font-family='"Liberation Serif", serif' >10</text>
<text transform="translate(548.30,146.70) scale(0.85,1)" font-size="10.5" text-anchor="start" font-family='"Liberation Serif", serif' >0</text>
<text transform="translate(541.10,202.30) scale(0.86,1)" font-size="15.5" text-anchor="end" font-family='"Liberation Serif", serif' >10</text>
<text x="541.60" y="198.00" font-size="10.5" text-anchor="start" font-family='"Liberation Serif", serif' >−2</text>
<text transform="translate(519.20,186.60) rotate(-90)" font-size="15.5" text-anchor="middle" font-family='"Liberation Serif", serif'>pdf (<tspan font-style="italic">δϕ</tspan>)</text>
<rect x="396.40" y="273.50" width="99.10" height="74.70" fill="none" stroke="#555" stroke-width="1"/>
<clipPath id="cq22"><rect x="396.4" y="273.5" width="99.10000000000002" height="74.69999999999999"/></clipPath>
<polyline clip-path="url(#cq22)" points="436.42,348.70 444.65,312.67 452.89,348.70" fill="none" stroke="#FFAA00" stroke-width="0.85"/>
<g fill="#FFAA00"><circle cx="423.99" cy="337.42" r="4.2"/><circle cx="428.49" cy="340.42" r="4.2"/><circle cx="431.48" cy="345.66" r="4.2"/><circle cx="434.47" cy="339.67" r="4.2"/><circle cx="436.72" cy="331.43" r="4.2"/><circle cx="437.47" cy="323.95" r="4.2"/><circle cx="438.96" cy="318.71" r="4.2"/><circle cx="439.71" cy="313.47" r="4.2"/><circle cx="441.21" cy="308.23" r="4.2"/><circle cx="442.71" cy="303.74" r="4.2"/><circle cx="444.20" cy="300.00" r="4.2"/><circle cx="445.70" cy="296.26" r="4.2"/><circle cx="447.20" cy="301.49" r="4.2"/><circle cx="447.95" cy="306.73" r="4.2"/><circle cx="448.70" cy="312.72" r="4.2"/><circle cx="450.19" cy="317.21" r="4.2"/><circle cx="453.19" cy="319.46" r="4.2"/><circle cx="456.18" cy="321.70" r="4.2"/><circle cx="456.93" cy="330.69" r="4.2"/><circle cx="460.67" cy="327.69" r="4.2"/><circle cx="462.17" cy="329.94" r="4.2"/><circle cx="459.92" cy="338.17" r="4.2"/><circle cx="465.91" cy="331.43" r="4.2"/><circle cx="469.65" cy="331.43" r="4.2"/><circle cx="472.65" cy="331.43" r="4.2"/><circle cx="478.64" cy="340.42" r="4.2"/><circle cx="482.38" cy="344.91" r="4.2"/><circle cx="486.87" cy="340.42" r="4.2"/></g>
<line x1="445.95" y1="348.20" x2="445.95" y2="347.00" stroke="#555" stroke-width="0.8"/>
<line x1="445.95" y1="273.50" x2="445.95" y2="274.70" stroke="#555" stroke-width="0.8"/>
<line x1="396.40" y1="323.30" x2="397.60" y2="323.30" stroke="#555" stroke-width="0.8"/>
<line x1="495.50" y1="323.30" x2="494.30" y2="323.30" stroke="#555" stroke-width="0.8"/>
<text transform="translate(396.40,365.20) scale(0.86,1)" font-size="15.5" text-anchor="middle" font-family='"Liberation Serif", serif' >-5</text>
<text transform="translate(445.95,365.20) scale(0.86,1)" font-size="15.5" text-anchor="middle" font-family='"Liberation Serif", serif' >0</text>
<text transform="translate(495.50,365.20) scale(0.86,1)" font-size="15.5" text-anchor="middle" font-family='"Liberation Serif", serif' >5</text>
<text transform="translate(482.50,381.90) scale(0.86,1)" font-size="15.5" text-anchor="end" font-family='"Liberation Serif", serif' >×10</text>
<text x="482.80" y="376.70" font-size="10.5" text-anchor="start" font-family='"Liberation Serif", serif' >−3</text>
<text transform="translate(385.40,277.30) scale(0.86,1)" font-size="15.5" text-anchor="end" font-family='"Liberation Serif", serif' >10</text>
<text transform="translate(386.20,271.70) scale(0.85,1)" font-size="10.5" text-anchor="start" font-family='"Liberation Serif", serif' >0</text>
<text transform="translate(379.00,327.10) scale(0.86,1)" font-size="15.5" text-anchor="end" font-family='"Liberation Serif", serif' >10</text>
<text x="379.50" y="322.80" font-size="10.5" text-anchor="start" font-family='"Liberation Serif", serif' >−2</text>
<text transform="translate(357.10,311.45) rotate(-90)" font-size="15.5" text-anchor="middle" font-family='"Liberation Serif", serif'>pdf (<tspan font-style="italic">δϕ</tspan>)</text>
<rect x="558.50" y="273.50" width="99.00" height="74.70" fill="none" stroke="#555" stroke-width="1"/>
<clipPath id="cq23"><rect x="558.5" y="273.5" width="99.0" height="74.69999999999999"/></clipPath>
<polyline clip-path="url(#cq23)" points="598.42,348.70 605.90,308.93 617.13,348.70" fill="none" stroke="#FFAA00" stroke-width="0.85"/>
<g fill="#FFAA00"><circle cx="576.26" cy="346.40" r="4.2"/><circle cx="579.26" cy="335.18" r="4.2"/><circle cx="585.99" cy="339.67" r="4.2"/><circle cx="591.23" cy="346.40" r="4.2"/><circle cx="594.98" cy="347.15" r="4.2"/><circle cx="596.47" cy="332.18" r="4.2"/><circle cx="598.72" cy="339.67" r="4.2"/><circle cx="600.96" cy="335.18" r="4.2"/><circle cx="602.01" cy="324.70" r="4.2"/><circle cx="602.46" cy="310.48" r="4.2"/><circle cx="603.96" cy="304.49" r="4.2"/><circle cx="605.46" cy="300.75" r="4.2"/><circle cx="606.95" cy="297.00" r="4.2"/><circle cx="608.45" cy="302.24" r="4.2"/><circle cx="609.20" cy="308.23" r="4.2"/><circle cx="610.70" cy="312.72" r="4.2"/><circle cx="612.19" cy="316.46" r="4.2"/><circle cx="614.44" cy="319.46" r="4.2"/><circle cx="617.43" cy="320.21" r="4.2"/><circle cx="619.68" cy="324.70" r="4.2"/><circle cx="622.67" cy="323.20" r="4.2"/><circle cx="618.18" cy="329.94" r="4.2"/><circle cx="624.92" cy="328.44" r="4.2"/><circle cx="628.66" cy="332.18" r="4.2"/><circle cx="631.65" cy="331.43" r="4.2"/><circle cx="636.14" cy="332.18" r="4.2"/><circle cx="639.14" cy="329.19" r="4.2"/><circle cx="642.88" cy="339.67" r="4.2"/><circle cx="646.62" cy="346.40" r="4.2"/><circle cx="651.11" cy="332.18" r="4.2"/></g>
<line x1="608.00" y1="348.20" x2="608.00" y2="347.00" stroke="#555" stroke-width="0.8"/>
<line x1="608.00" y1="273.50" x2="608.00" y2="274.70" stroke="#555" stroke-width="0.8"/>
<line x1="558.50" y1="323.30" x2="559.70" y2="323.30" stroke="#555" stroke-width="0.8"/>
<line x1="657.50" y1="323.30" x2="656.30" y2="323.30" stroke="#555" stroke-width="0.8"/>
<text transform="translate(558.50,365.20) scale(0.86,1)" font-size="15.5" text-anchor="middle" font-family='"Liberation Serif", serif' >-0.01</text>
<text transform="translate(608.00,365.20) scale(0.86,1)" font-size="15.5" text-anchor="middle" font-family='"Liberation Serif", serif' >0</text>
<text transform="translate(657.50,365.20) scale(0.86,1)" font-size="15.5" text-anchor="middle" font-family='"Liberation Serif", serif' >0.01</text>
<text transform="translate(547.50,277.30) scale(0.86,1)" font-size="15.5" text-anchor="end" font-family='"Liberation Serif", serif' >10</text>
<text transform="translate(548.30,271.70) scale(0.85,1)" font-size="10.5" text-anchor="start" font-family='"Liberation Serif", serif' >0</text>
<text transform="translate(541.10,327.10) scale(0.86,1)" font-size="15.5" text-anchor="end" font-family='"Liberation Serif", serif' >10</text>
<text x="541.60" y="322.80" font-size="10.5" text-anchor="start" font-family='"Liberation Serif", serif' >−2</text>
<text transform="translate(519.20,311.45) rotate(-90)" font-size="15.5" text-anchor="middle" font-family='"Liberation Serif", serif'>pdf (<tspan font-style="italic">δϕ</tspan>)</text>
<rect x="396.40" y="398.00" width="99.10" height="74.50" fill="none" stroke="#555" stroke-width="1"/>
<clipPath id="cq32"><rect x="396.4" y="398.0" width="99.10000000000002" height="74.5"/></clipPath>
<polyline clip-path="url(#cq32)" points="437.92,473.00 444.65,438.42 452.89,473.00" fill="none" stroke="#FF5500" stroke-width="0.85"/>
<g fill="#FF5500"><circle cx="415.76" cy="471.40" r="4.2"/><circle cx="422.50" cy="464.67" r="4.2"/><circle cx="429.23" cy="467.66" r="4.2"/><circle cx="432.98" cy="467.66" r="4.2"/><circle cx="433.73" cy="453.44" r="4.2"/><circle cx="437.47" cy="460.18" r="4.2"/><circle cx="437.47" cy="449.70" r="4.2"/><circle cx="439.71" cy="446.70" r="4.2"/><circle cx="440.46" cy="439.22" r="4.2"/><circle cx="441.96" cy="433.98" r="4.2"/><circle cx="442.71" cy="427.24" r="4.2"/><circle cx="444.95" cy="421.26" r="4.2"/><circle cx="446.45" cy="425.75" r="4.2"/><circle cx="447.20" cy="431.73" r="4.2"/><circle cx="448.70" cy="436.23" r="4.2"/><circle cx="450.94" cy="440.72" r="4.2"/><circle cx="452.44" cy="444.46" r="4.2"/><circle cx="454.68" cy="448.20" r="4.2"/><circle cx="456.18" cy="452.69" r="4.2"/><circle cx="459.17" cy="454.19" r="4.2"/><circle cx="462.17" cy="455.69" r="4.2"/><circle cx="465.16" cy="457.18" r="4.2"/><circle cx="466.66" cy="462.42" r="4.2"/><circle cx="469.65" cy="461.67" r="4.2"/><circle cx="472.65" cy="459.43" r="4.2"/><circle cx="475.64" cy="461.67" r="4.2"/><circle cx="478.64" cy="463.17" r="4.2"/><circle cx="482.38" cy="464.67" r="4.2"/><circle cx="479.38" cy="471.40" r="4.2"/><circle cx="489.86" cy="471.40" r="4.2"/></g>
<line x1="445.95" y1="472.50" x2="445.95" y2="471.30" stroke="#555" stroke-width="0.8"/>
<line x1="445.95" y1="398.00" x2="445.95" y2="399.20" stroke="#555" stroke-width="0.8"/>
<line x1="396.40" y1="447.67" x2="397.60" y2="447.67" stroke="#555" stroke-width="0.8"/>
<line x1="495.50" y1="447.67" x2="494.30" y2="447.67" stroke="#555" stroke-width="0.8"/>
<text transform="translate(396.40,489.50) scale(0.86,1)" font-size="15.5" text-anchor="middle" font-family='"Liberation Serif", serif' >-0.01</text>
<text transform="translate(445.95,489.50) scale(0.86,1)" font-size="15.5" text-anchor="middle" font-family='"Liberation Serif", serif' >0</text>
<text transform="translate(495.50,489.50) scale(0.86,1)" font-size="15.5" text-anchor="middle" font-family='"Liberation Serif", serif' >0.01</text>
<text transform="translate(385.40,401.80) scale(0.86,1)" font-size="15.5" text-anchor="end" font-family='"Liberation Serif", serif' >10</text>
<text transform="translate(386.20,396.20) scale(0.85,1)" font-size="10.5" text-anchor="start" font-family='"Liberation Serif", serif' >0</text>
<text transform="translate(379.00,451.47) scale(0.86,1)" font-size="15.5" text-anchor="end" font-family='"Liberation Serif", serif' >10</text>
<text x="379.50" y="447.17" font-size="10.5" text-anchor="start" font-family='"Liberation Serif", serif' >−2</text>
<text transform="translate(357.10,435.85) rotate(-90)" font-size="15.5" text-anchor="middle" font-family='"Liberation Serif", serif'>pdf (<tspan font-style="italic">δϕ</tspan>)</text>
<rect x="558.50" y="398.00" width="99.00" height="74.50" fill="none" stroke="#555" stroke-width="1"/>
<clipPath id="cq33"><rect x="558.5" y="398.0" width="99.0" height="74.5"/></clipPath>
<polyline clip-path="url(#cq33)" points="604.41,473.00 607.40,435.43 611.89,473.00" fill="none" stroke="#FF5500" stroke-width="0.85"/>
<g fill="#FF5500"><circle cx="571.02" cy="467.66" r="4.2"/><circle cx="578.51" cy="460.18" r="4.2"/><circle cx="585.99" cy="460.18" r="4.2"/><circle cx="595.73" cy="455.69" r="4.2"/><circle cx="600.96" cy="457.18" r="4.2"/><circle cx="602.46" cy="454.94" r="4.2"/><circle cx="603.96" cy="440.72" r="4.2"/><circle cx="604.71" cy="431.73" r="4.2"/><circle cx="606.20" cy="425.75" r="4.2"/><circle cx="606.95" cy="422.75" r="4.2"/><circle cx="607.70" cy="419.01" r="4.2"/><circle cx="609.20" cy="426.49" r="4.2"/><circle cx="610.70" cy="434.73" r="4.2"/><circle cx="612.19" cy="437.72" r="4.2"/><circle cx="614.44" cy="442.21" r="4.2"/><circle cx="616.68" cy="444.46" r="4.2"/><circle cx="617.43" cy="452.69" r="4.2"/><circle cx="621.17" cy="452.69" r="4.2"/><circle cx="624.17" cy="453.44" r="4.2"/><circle cx="627.91" cy="455.69" r="4.2"/><circle cx="631.65" cy="451.20" r="4.2"/><circle cx="637.64" cy="460.18" r="4.2"/><circle cx="642.13" cy="463.17" r="4.2"/><circle cx="646.62" cy="463.17" r="4.2"/></g>
<line x1="608.00" y1="472.50" x2="608.00" y2="471.30" stroke="#555" stroke-width="0.8"/>
<line x1="608.00" y1="398.00" x2="608.00" y2="399.20" stroke="#555" stroke-width="0.8"/>
<line x1="558.50" y1="447.67" x2="559.70" y2="447.67" stroke="#555" stroke-width="0.8"/>
<line x1="657.50" y1="447.67" x2="656.30" y2="447.67" stroke="#555" stroke-width="0.8"/>
<text transform="translate(558.50,489.50) scale(0.86,1)" font-size="15.5" text-anchor="middle" font-family='"Liberation Serif", serif' >-0.02</text>
<text transform="translate(608.00,489.50) scale(0.86,1)" font-size="15.5" text-anchor="middle" font-family='"Liberation Serif", serif' >0</text>
<text transform="translate(657.50,489.50) scale(0.86,1)" font-size="15.5" text-anchor="middle" font-family='"Liberation Serif", serif' >0.02</text>
<text transform="translate(547.50,401.80) scale(0.86,1)" font-size="15.5" text-anchor="end" font-family='"Liberation Serif", serif' >10</text>
<text transform="translate(548.30,396.20) scale(0.85,1)" font-size="10.5" text-anchor="start" font-family='"Liberation Serif", serif' >0</text>
<text transform="translate(541.10,451.47) scale(0.86,1)" font-size="15.5" text-anchor="end" font-family='"Liberation Serif", serif' >10</text>
<text x="541.60" y="447.17" font-size="10.5" text-anchor="start" font-family='"Liberation Serif", serif' >−2</text>
<text transform="translate(519.20,435.85) rotate(-90)" font-size="15.5" text-anchor="middle" font-family='"Liberation Serif", serif'>pdf (<tspan font-style="italic">δϕ</tspan>)</text>
<rect x="396.40" y="522.50" width="99.10" height="75.00" fill="none" stroke="#555" stroke-width="1"/>
<clipPath id="cq42"><rect x="396.4" y="522.5" width="99.10000000000002" height="75.0"/></clipPath>
<polyline clip-path="url(#cq42)" points="442.41,598.00 446.15,566.91 449.14,598.00" fill="none" stroke="#AE0000" stroke-width="0.85"/>
<g fill="#AE0000"><circle cx="398.55" cy="593.91" r="4.2"/><circle cx="403.04" cy="590.91" r="4.2"/><circle cx="406.78" cy="589.42" r="4.2"/><circle cx="410.52" cy="579.39" r="4.2"/><circle cx="412.77" cy="587.17" r="4.2"/><circle cx="417.26" cy="581.93" r="4.2"/><circle cx="420.25" cy="581.18" r="4.2"/><circle cx="423.25" cy="582.68" r="4.2"/><circle cx="424.74" cy="587.17" r="4.2"/><circle cx="427.74" cy="578.94" r="4.2"/><circle cx="430.73" cy="577.44" r="4.2"/><circle cx="432.98" cy="575.20" r="4.2"/><circle cx="435.97" cy="569.21" r="4.2"/><circle cx="438.22" cy="572.20" r="4.2"/><circle cx="440.46" cy="566.21" r="4.2"/><circle cx="441.96" cy="561.72" r="4.2"/><circle cx="442.71" cy="557.23" r="4.2"/><circle cx="444.20" cy="552.74" r="4.2"/><circle cx="445.70" cy="548.25" r="4.2"/><circle cx="447.95" cy="555.73" r="4.2"/><circle cx="449.44" cy="561.72" r="4.2"/><circle cx="451.69" cy="566.21" r="4.2"/><circle cx="453.93" cy="570.70" r="4.2"/><circle cx="454.68" cy="577.44" r="4.2"/><circle cx="457.68" cy="578.94" r="4.2"/><circle cx="459.92" cy="582.68" r="4.2"/><circle cx="462.17" cy="575.20" r="4.2"/><circle cx="463.67" cy="580.43" r="4.2"/><circle cx="466.66" cy="587.17" r="4.2"/><circle cx="469.65" cy="584.18" r="4.2"/><circle cx="472.65" cy="588.67" r="4.2"/><circle cx="476.39" cy="593.16" r="4.2"/><circle cx="480.13" cy="590.17" r="4.2"/><circle cx="492.11" cy="590.17" r="4.2"/></g>
<line x1="445.95" y1="597.50" x2="445.95" y2="596.30" stroke="#555" stroke-width="0.8"/>
<line x1="445.95" y1="522.50" x2="445.95" y2="523.70" stroke="#555" stroke-width="0.8"/>
<line x1="396.40" y1="572.50" x2="397.60" y2="572.50" stroke="#555" stroke-width="0.8"/>
<line x1="495.50" y1="572.50" x2="494.30" y2="572.50" stroke="#555" stroke-width="0.8"/>
<text transform="translate(396.40,614.50) scale(0.86,1)" font-size="15.5" text-anchor="middle" font-family='"Liberation Serif", serif' >-0.02</text>
<text transform="translate(445.95,614.50) scale(0.86,1)" font-size="15.5" text-anchor="middle" font-family='"Liberation Serif", serif' >0</text>
<text transform="translate(495.50,614.50) scale(0.86,1)" font-size="15.5" text-anchor="middle" font-family='"Liberation Serif", serif' >0.02</text>
<text transform="translate(385.40,526.30) scale(0.86,1)" font-size="15.5" text-anchor="end" font-family='"Liberation Serif", serif' >10</text>
<text transform="translate(386.20,520.70) scale(0.85,1)" font-size="10.5" text-anchor="start" font-family='"Liberation Serif", serif' >0</text>
<text transform="translate(379.00,576.30) scale(0.86,1)" font-size="15.5" text-anchor="end" font-family='"Liberation Serif", serif' >10</text>
<text x="379.50" y="572.00" font-size="10.5" text-anchor="start" font-family='"Liberation Serif", serif' >−2</text>
<text transform="translate(357.10,560.60) rotate(-90)" font-size="15.5" text-anchor="middle" font-family='"Liberation Serif", serif'>pdf (<tspan font-style="italic">δϕ</tspan>)</text>
<rect x="558.50" y="522.50" width="99.00" height="75.00" fill="none" stroke="#555" stroke-width="1"/>
<clipPath id="cq43"><rect x="558.5" y="522.5" width="99.0" height="75.0"/></clipPath>
<polyline clip-path="url(#cq43)" points="602.91,598.00 607.40,563.92 613.39,598.00" fill="none" stroke="#AE0000" stroke-width="0.85"/>
<g fill="#AE0000"><circle cx="564.29" cy="595.40" r="4.2"/><circle cx="568.03" cy="584.18" r="4.2"/><circle cx="574.77" cy="588.67" r="4.2"/><circle cx="577.76" cy="578.94" r="4.2"/><circle cx="581.50" cy="578.94" r="4.2"/><circle cx="583.75" cy="588.67" r="4.2"/><circle cx="586.74" cy="581.18" r="4.2"/><circle cx="589.74" cy="578.94" r="4.2"/><circle cx="593.48" cy="575.20" r="4.2"/><circle cx="595.73" cy="578.19" r="4.2"/><circle cx="597.97" cy="584.18" r="4.2"/><circle cx="600.22" cy="576.69" r="4.2"/><circle cx="600.96" cy="568.46" r="4.2"/><circle cx="603.21" cy="566.21" r="4.2"/><circle cx="602.46" cy="560.23" r="4.2"/><circle cx="604.71" cy="554.24" r="4.2"/><circle cx="606.95" cy="549.75" r="4.2"/><circle cx="609.20" cy="554.99" r="4.2"/><circle cx="609.95" cy="560.97" r="4.2"/><circle cx="612.94" cy="563.22" r="4.2"/><circle cx="615.19" cy="566.21" r="4.2"/><circle cx="618.18" cy="575.20" r="4.2"/><circle cx="620.43" cy="570.70" r="4.2"/><circle cx="623.42" cy="574.45" r="4.2"/><circle cx="624.17" cy="588.67" r="4.2"/><circle cx="626.41" cy="578.94" r="4.2"/><circle cx="629.41" cy="575.20" r="4.2"/><circle cx="631.65" cy="581.18" r="4.2"/><circle cx="636.14" cy="581.93" r="4.2"/><circle cx="639.14" cy="581.93" r="4.2"/><circle cx="641.38" cy="588.67" r="4.2"/><circle cx="645.13" cy="588.67" r="4.2"/><circle cx="648.87" cy="576.69" r="4.2"/><circle cx="651.86" cy="584.18" r="4.2"/><circle cx="655.61" cy="588.67" r="4.2"/></g>
<line x1="608.00" y1="597.50" x2="608.00" y2="596.30" stroke="#555" stroke-width="0.8"/>
<line x1="608.00" y1="522.50" x2="608.00" y2="523.70" stroke="#555" stroke-width="0.8"/>
<line x1="558.50" y1="572.50" x2="559.70" y2="572.50" stroke="#555" stroke-width="0.8"/>
<line x1="657.50" y1="572.50" x2="656.30" y2="572.50" stroke="#555" stroke-width="0.8"/>
<text transform="translate(558.50,614.50) scale(0.86,1)" font-size="15.5" text-anchor="middle" font-family='"Liberation Serif", serif' >-0.02</text>
<text transform="translate(608.00,614.50) scale(0.86,1)" font-size="15.5" text-anchor="middle" font-family='"Liberation Serif", serif' >0</text>
<text transform="translate(657.50,614.50) scale(0.86,1)" font-size="15.5" text-anchor="middle" font-family='"Liberation Serif", serif' >0.02</text>
<text transform="translate(547.50,526.30) scale(0.86,1)" font-size="15.5" text-anchor="end" font-family='"Liberation Serif", serif' >10</text>
<text transform="translate(548.30,520.70) scale(0.85,1)" font-size="10.5" text-anchor="start" font-family='"Liberation Serif", serif' >0</text>
<text transform="translate(541.10,576.30) scale(0.86,1)" font-size="15.5" text-anchor="end" font-family='"Liberation Serif", serif' >10</text>
<text x="541.60" y="572.00" font-size="10.5" text-anchor="start" font-family='"Liberation Serif", serif' >−2</text>
<text transform="translate(519.20,560.60) rotate(-90)" font-size="15.5" text-anchor="middle" font-family='"Liberation Serif", serif'>pdf (<tspan font-style="italic">δϕ</tspan>)</text>
<text x="125.50" y="10.00" font-size="13" text-anchor="middle" font-family='"Liberation Sans", sans-serif' >(a)</text>
<text x="274.70" y="10.00" font-size="13" text-anchor="middle" font-family='"Liberation Sans", sans-serif' >(b)</text>
<text x="453.50" y="10.00" font-size="13" text-anchor="middle" font-family='"Liberation Sans", sans-serif' >(c)</text>
<text x="604.80" y="10.00" font-size="13" text-anchor="middle" font-family='"Liberation Sans", sans-serif' >(d)</text>
<text x="8.60" y="66.35" font-size="13" text-anchor="middle" font-family='"Liberation Sans", sans-serif' >(1)</text>
<text x="8.60" y="190.25" font-size="13" text-anchor="middle" font-family='"Liberation Sans", sans-serif' >(2)</text>
<text x="8.60" y="317.45" font-size="13" text-anchor="middle" font-family='"Liberation Sans", sans-serif' >(3)</text>
<text x="8.60" y="440.25" font-size="13" text-anchor="middle" font-family='"Liberation Sans", sans-serif' >(4)</text>
<text x="8.60" y="563.65" font-size="13" text-anchor="middle" font-family='"Liberation Sans", sans-serif' >(5)</text>
<text transform="translate(120.10,631.80) scale(0.99,1)" font-size="15.5" text-anchor="middle" font-family='"Liberation Serif", serif' word-spacing="2.5">time (s)</text>
<text transform="translate(283.15,631.80) scale(0.99,1)" font-size="15.5" text-anchor="middle" font-family='"Liberation Serif", serif' word-spacing="2.5">time (s)</text>
<text transform="translate(447.45,632.20) scale(0.86,1)" font-size="15.5" text-anchor="end" font-family='"Liberation Serif", serif' >Ψ</text>
<text x="448.45" y="626.20" font-size="10.5" text-anchor="start" font-family='"Liberation Serif", serif' >2</text>
<text transform="translate(609.50,632.20) scale(0.86,1)" font-size="15.5" text-anchor="end" font-family='"Liberation Serif", serif' >Ψ</text>
<text x="610.50" y="626.20" font-size="10.5" text-anchor="start" font-family='"Liberation Serif", serif' >2</text>
</svg></body></html>
